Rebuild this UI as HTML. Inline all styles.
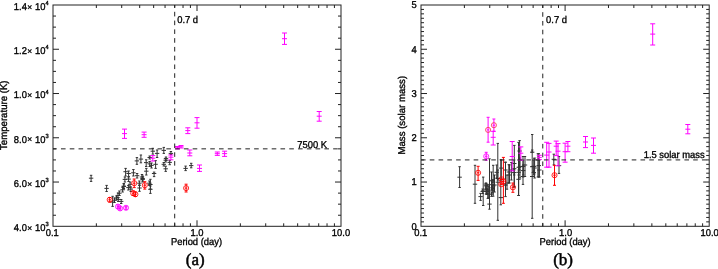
<!DOCTYPE html>
<html><head><meta charset="utf-8"><style>
html,body{margin:0;padding:0;background:#fff;}
svg{display:block;will-change:transform;}
text{font-family:"Liberation Sans",sans-serif;fill:#000;text-rendering:geometricPrecision;stroke:#000;stroke-width:0.35px;}
</style></head><body>
<svg width="718" height="269" viewBox="0 0 718 269">
<rect x="53.00" y="5.00" width="288.00" height="221.30" fill="none" stroke="#222" stroke-width="1"/>
<line x1="96.35" y1="226.30" x2="96.35" y2="223.30" stroke="#222" stroke-width="1.0" />
<line x1="96.35" y1="5.00" x2="96.35" y2="8.00" stroke="#222" stroke-width="1.0" />
<line x1="121.71" y1="226.30" x2="121.71" y2="223.30" stroke="#222" stroke-width="1.0" />
<line x1="121.71" y1="5.00" x2="121.71" y2="8.00" stroke="#222" stroke-width="1.0" />
<line x1="139.70" y1="226.30" x2="139.70" y2="223.30" stroke="#222" stroke-width="1.0" />
<line x1="139.70" y1="5.00" x2="139.70" y2="8.00" stroke="#222" stroke-width="1.0" />
<line x1="153.65" y1="226.30" x2="153.65" y2="223.30" stroke="#222" stroke-width="1.0" />
<line x1="153.65" y1="5.00" x2="153.65" y2="8.00" stroke="#222" stroke-width="1.0" />
<line x1="165.05" y1="226.30" x2="165.05" y2="223.30" stroke="#222" stroke-width="1.0" />
<line x1="165.05" y1="5.00" x2="165.05" y2="8.00" stroke="#222" stroke-width="1.0" />
<line x1="174.69" y1="226.30" x2="174.69" y2="223.30" stroke="#222" stroke-width="1.0" />
<line x1="174.69" y1="5.00" x2="174.69" y2="8.00" stroke="#222" stroke-width="1.0" />
<line x1="183.04" y1="226.30" x2="183.04" y2="223.30" stroke="#222" stroke-width="1.0" />
<line x1="183.04" y1="5.00" x2="183.04" y2="8.00" stroke="#222" stroke-width="1.0" />
<line x1="190.41" y1="226.30" x2="190.41" y2="223.30" stroke="#222" stroke-width="1.0" />
<line x1="190.41" y1="5.00" x2="190.41" y2="8.00" stroke="#222" stroke-width="1.0" />
<line x1="197.00" y1="226.30" x2="197.00" y2="220.30" stroke="#222" stroke-width="1.0" />
<line x1="197.00" y1="5.00" x2="197.00" y2="11.00" stroke="#222" stroke-width="1.0" />
<line x1="240.35" y1="226.30" x2="240.35" y2="223.30" stroke="#222" stroke-width="1.0" />
<line x1="240.35" y1="5.00" x2="240.35" y2="8.00" stroke="#222" stroke-width="1.0" />
<line x1="265.71" y1="226.30" x2="265.71" y2="223.30" stroke="#222" stroke-width="1.0" />
<line x1="265.71" y1="5.00" x2="265.71" y2="8.00" stroke="#222" stroke-width="1.0" />
<line x1="283.70" y1="226.30" x2="283.70" y2="223.30" stroke="#222" stroke-width="1.0" />
<line x1="283.70" y1="5.00" x2="283.70" y2="8.00" stroke="#222" stroke-width="1.0" />
<line x1="297.65" y1="226.30" x2="297.65" y2="223.30" stroke="#222" stroke-width="1.0" />
<line x1="297.65" y1="5.00" x2="297.65" y2="8.00" stroke="#222" stroke-width="1.0" />
<line x1="309.05" y1="226.30" x2="309.05" y2="223.30" stroke="#222" stroke-width="1.0" />
<line x1="309.05" y1="5.00" x2="309.05" y2="8.00" stroke="#222" stroke-width="1.0" />
<line x1="318.69" y1="226.30" x2="318.69" y2="223.30" stroke="#222" stroke-width="1.0" />
<line x1="318.69" y1="5.00" x2="318.69" y2="8.00" stroke="#222" stroke-width="1.0" />
<line x1="327.04" y1="226.30" x2="327.04" y2="223.30" stroke="#222" stroke-width="1.0" />
<line x1="327.04" y1="5.00" x2="327.04" y2="8.00" stroke="#222" stroke-width="1.0" />
<line x1="334.41" y1="226.30" x2="334.41" y2="223.30" stroke="#222" stroke-width="1.0" />
<line x1="334.41" y1="5.00" x2="334.41" y2="8.00" stroke="#222" stroke-width="1.0" />
<line x1="53.00" y1="215.24" x2="56.00" y2="215.24" stroke="#222" stroke-width="1.0" />
<line x1="341.00" y1="215.24" x2="338.00" y2="215.24" stroke="#222" stroke-width="1.0" />
<line x1="53.00" y1="204.17" x2="56.00" y2="204.17" stroke="#222" stroke-width="1.0" />
<line x1="341.00" y1="204.17" x2="338.00" y2="204.17" stroke="#222" stroke-width="1.0" />
<line x1="53.00" y1="193.11" x2="56.00" y2="193.11" stroke="#222" stroke-width="1.0" />
<line x1="341.00" y1="193.11" x2="338.00" y2="193.11" stroke="#222" stroke-width="1.0" />
<line x1="53.00" y1="182.04" x2="59.00" y2="182.04" stroke="#222" stroke-width="1.0" />
<line x1="341.00" y1="182.04" x2="335.00" y2="182.04" stroke="#222" stroke-width="1.0" />
<line x1="53.00" y1="170.98" x2="56.00" y2="170.98" stroke="#222" stroke-width="1.0" />
<line x1="341.00" y1="170.98" x2="338.00" y2="170.98" stroke="#222" stroke-width="1.0" />
<line x1="53.00" y1="159.91" x2="56.00" y2="159.91" stroke="#222" stroke-width="1.0" />
<line x1="341.00" y1="159.91" x2="338.00" y2="159.91" stroke="#222" stroke-width="1.0" />
<line x1="53.00" y1="148.85" x2="56.00" y2="148.85" stroke="#222" stroke-width="1.0" />
<line x1="341.00" y1="148.85" x2="338.00" y2="148.85" stroke="#222" stroke-width="1.0" />
<line x1="53.00" y1="137.78" x2="59.00" y2="137.78" stroke="#222" stroke-width="1.0" />
<line x1="341.00" y1="137.78" x2="335.00" y2="137.78" stroke="#222" stroke-width="1.0" />
<line x1="53.00" y1="126.72" x2="56.00" y2="126.72" stroke="#222" stroke-width="1.0" />
<line x1="341.00" y1="126.72" x2="338.00" y2="126.72" stroke="#222" stroke-width="1.0" />
<line x1="53.00" y1="115.65" x2="56.00" y2="115.65" stroke="#222" stroke-width="1.0" />
<line x1="341.00" y1="115.65" x2="338.00" y2="115.65" stroke="#222" stroke-width="1.0" />
<line x1="53.00" y1="104.59" x2="56.00" y2="104.59" stroke="#222" stroke-width="1.0" />
<line x1="341.00" y1="104.59" x2="338.00" y2="104.59" stroke="#222" stroke-width="1.0" />
<line x1="53.00" y1="93.52" x2="59.00" y2="93.52" stroke="#222" stroke-width="1.0" />
<line x1="341.00" y1="93.52" x2="335.00" y2="93.52" stroke="#222" stroke-width="1.0" />
<line x1="53.00" y1="82.46" x2="56.00" y2="82.46" stroke="#222" stroke-width="1.0" />
<line x1="341.00" y1="82.46" x2="338.00" y2="82.46" stroke="#222" stroke-width="1.0" />
<line x1="53.00" y1="71.39" x2="56.00" y2="71.39" stroke="#222" stroke-width="1.0" />
<line x1="341.00" y1="71.39" x2="338.00" y2="71.39" stroke="#222" stroke-width="1.0" />
<line x1="53.00" y1="60.33" x2="56.00" y2="60.33" stroke="#222" stroke-width="1.0" />
<line x1="341.00" y1="60.33" x2="338.00" y2="60.33" stroke="#222" stroke-width="1.0" />
<line x1="53.00" y1="49.26" x2="59.00" y2="49.26" stroke="#222" stroke-width="1.0" />
<line x1="341.00" y1="49.26" x2="335.00" y2="49.26" stroke="#222" stroke-width="1.0" />
<line x1="53.00" y1="38.20" x2="56.00" y2="38.20" stroke="#222" stroke-width="1.0" />
<line x1="341.00" y1="38.20" x2="338.00" y2="38.20" stroke="#222" stroke-width="1.0" />
<line x1="53.00" y1="27.13" x2="56.00" y2="27.13" stroke="#222" stroke-width="1.0" />
<line x1="341.00" y1="27.13" x2="338.00" y2="27.13" stroke="#222" stroke-width="1.0" />
<line x1="53.00" y1="16.06" x2="56.00" y2="16.06" stroke="#222" stroke-width="1.0" />
<line x1="341.00" y1="16.06" x2="338.00" y2="16.06" stroke="#222" stroke-width="1.0" />
<rect x="421.00" y="5.00" width="288.20" height="221.30" fill="none" stroke="#222" stroke-width="1"/>
<line x1="464.38" y1="226.30" x2="464.38" y2="223.30" stroke="#222" stroke-width="1.0" />
<line x1="464.38" y1="5.00" x2="464.38" y2="8.00" stroke="#222" stroke-width="1.0" />
<line x1="489.75" y1="226.30" x2="489.75" y2="223.30" stroke="#222" stroke-width="1.0" />
<line x1="489.75" y1="5.00" x2="489.75" y2="8.00" stroke="#222" stroke-width="1.0" />
<line x1="507.76" y1="226.30" x2="507.76" y2="223.30" stroke="#222" stroke-width="1.0" />
<line x1="507.76" y1="5.00" x2="507.76" y2="8.00" stroke="#222" stroke-width="1.0" />
<line x1="521.72" y1="226.30" x2="521.72" y2="223.30" stroke="#222" stroke-width="1.0" />
<line x1="521.72" y1="5.00" x2="521.72" y2="8.00" stroke="#222" stroke-width="1.0" />
<line x1="533.13" y1="226.30" x2="533.13" y2="223.30" stroke="#222" stroke-width="1.0" />
<line x1="533.13" y1="5.00" x2="533.13" y2="8.00" stroke="#222" stroke-width="1.0" />
<line x1="542.78" y1="226.30" x2="542.78" y2="223.30" stroke="#222" stroke-width="1.0" />
<line x1="542.78" y1="5.00" x2="542.78" y2="8.00" stroke="#222" stroke-width="1.0" />
<line x1="551.14" y1="226.30" x2="551.14" y2="223.30" stroke="#222" stroke-width="1.0" />
<line x1="551.14" y1="5.00" x2="551.14" y2="8.00" stroke="#222" stroke-width="1.0" />
<line x1="558.51" y1="226.30" x2="558.51" y2="223.30" stroke="#222" stroke-width="1.0" />
<line x1="558.51" y1="5.00" x2="558.51" y2="8.00" stroke="#222" stroke-width="1.0" />
<line x1="565.10" y1="226.30" x2="565.10" y2="220.30" stroke="#222" stroke-width="1.0" />
<line x1="565.10" y1="5.00" x2="565.10" y2="11.00" stroke="#222" stroke-width="1.0" />
<line x1="608.48" y1="226.30" x2="608.48" y2="223.30" stroke="#222" stroke-width="1.0" />
<line x1="608.48" y1="5.00" x2="608.48" y2="8.00" stroke="#222" stroke-width="1.0" />
<line x1="633.85" y1="226.30" x2="633.85" y2="223.30" stroke="#222" stroke-width="1.0" />
<line x1="633.85" y1="5.00" x2="633.85" y2="8.00" stroke="#222" stroke-width="1.0" />
<line x1="651.86" y1="226.30" x2="651.86" y2="223.30" stroke="#222" stroke-width="1.0" />
<line x1="651.86" y1="5.00" x2="651.86" y2="8.00" stroke="#222" stroke-width="1.0" />
<line x1="665.82" y1="226.30" x2="665.82" y2="223.30" stroke="#222" stroke-width="1.0" />
<line x1="665.82" y1="5.00" x2="665.82" y2="8.00" stroke="#222" stroke-width="1.0" />
<line x1="677.23" y1="226.30" x2="677.23" y2="223.30" stroke="#222" stroke-width="1.0" />
<line x1="677.23" y1="5.00" x2="677.23" y2="8.00" stroke="#222" stroke-width="1.0" />
<line x1="686.88" y1="226.30" x2="686.88" y2="223.30" stroke="#222" stroke-width="1.0" />
<line x1="686.88" y1="5.00" x2="686.88" y2="8.00" stroke="#222" stroke-width="1.0" />
<line x1="695.24" y1="226.30" x2="695.24" y2="223.30" stroke="#222" stroke-width="1.0" />
<line x1="695.24" y1="5.00" x2="695.24" y2="8.00" stroke="#222" stroke-width="1.0" />
<line x1="702.61" y1="226.30" x2="702.61" y2="223.30" stroke="#222" stroke-width="1.0" />
<line x1="702.61" y1="5.00" x2="702.61" y2="8.00" stroke="#222" stroke-width="1.0" />
<line x1="421.00" y1="221.87" x2="424.00" y2="221.87" stroke="#222" stroke-width="1.0" />
<line x1="709.20" y1="221.87" x2="706.20" y2="221.87" stroke="#222" stroke-width="1.0" />
<line x1="421.00" y1="217.45" x2="424.00" y2="217.45" stroke="#222" stroke-width="1.0" />
<line x1="709.20" y1="217.45" x2="706.20" y2="217.45" stroke="#222" stroke-width="1.0" />
<line x1="421.00" y1="213.02" x2="424.00" y2="213.02" stroke="#222" stroke-width="1.0" />
<line x1="709.20" y1="213.02" x2="706.20" y2="213.02" stroke="#222" stroke-width="1.0" />
<line x1="421.00" y1="208.60" x2="424.00" y2="208.60" stroke="#222" stroke-width="1.0" />
<line x1="709.20" y1="208.60" x2="706.20" y2="208.60" stroke="#222" stroke-width="1.0" />
<line x1="421.00" y1="204.17" x2="424.00" y2="204.17" stroke="#222" stroke-width="1.0" />
<line x1="709.20" y1="204.17" x2="706.20" y2="204.17" stroke="#222" stroke-width="1.0" />
<line x1="421.00" y1="199.74" x2="424.00" y2="199.74" stroke="#222" stroke-width="1.0" />
<line x1="709.20" y1="199.74" x2="706.20" y2="199.74" stroke="#222" stroke-width="1.0" />
<line x1="421.00" y1="195.32" x2="424.00" y2="195.32" stroke="#222" stroke-width="1.0" />
<line x1="709.20" y1="195.32" x2="706.20" y2="195.32" stroke="#222" stroke-width="1.0" />
<line x1="421.00" y1="190.89" x2="424.00" y2="190.89" stroke="#222" stroke-width="1.0" />
<line x1="709.20" y1="190.89" x2="706.20" y2="190.89" stroke="#222" stroke-width="1.0" />
<line x1="421.00" y1="186.47" x2="424.00" y2="186.47" stroke="#222" stroke-width="1.0" />
<line x1="709.20" y1="186.47" x2="706.20" y2="186.47" stroke="#222" stroke-width="1.0" />
<line x1="421.00" y1="182.04" x2="427.00" y2="182.04" stroke="#222" stroke-width="1.0" />
<line x1="709.20" y1="182.04" x2="703.20" y2="182.04" stroke="#222" stroke-width="1.0" />
<line x1="421.00" y1="177.61" x2="424.00" y2="177.61" stroke="#222" stroke-width="1.0" />
<line x1="709.20" y1="177.61" x2="706.20" y2="177.61" stroke="#222" stroke-width="1.0" />
<line x1="421.00" y1="173.19" x2="424.00" y2="173.19" stroke="#222" stroke-width="1.0" />
<line x1="709.20" y1="173.19" x2="706.20" y2="173.19" stroke="#222" stroke-width="1.0" />
<line x1="421.00" y1="168.76" x2="424.00" y2="168.76" stroke="#222" stroke-width="1.0" />
<line x1="709.20" y1="168.76" x2="706.20" y2="168.76" stroke="#222" stroke-width="1.0" />
<line x1="421.00" y1="164.34" x2="424.00" y2="164.34" stroke="#222" stroke-width="1.0" />
<line x1="709.20" y1="164.34" x2="706.20" y2="164.34" stroke="#222" stroke-width="1.0" />
<line x1="421.00" y1="159.91" x2="424.00" y2="159.91" stroke="#222" stroke-width="1.0" />
<line x1="709.20" y1="159.91" x2="706.20" y2="159.91" stroke="#222" stroke-width="1.0" />
<line x1="421.00" y1="155.48" x2="424.00" y2="155.48" stroke="#222" stroke-width="1.0" />
<line x1="709.20" y1="155.48" x2="706.20" y2="155.48" stroke="#222" stroke-width="1.0" />
<line x1="421.00" y1="151.06" x2="424.00" y2="151.06" stroke="#222" stroke-width="1.0" />
<line x1="709.20" y1="151.06" x2="706.20" y2="151.06" stroke="#222" stroke-width="1.0" />
<line x1="421.00" y1="146.63" x2="424.00" y2="146.63" stroke="#222" stroke-width="1.0" />
<line x1="709.20" y1="146.63" x2="706.20" y2="146.63" stroke="#222" stroke-width="1.0" />
<line x1="421.00" y1="142.21" x2="424.00" y2="142.21" stroke="#222" stroke-width="1.0" />
<line x1="709.20" y1="142.21" x2="706.20" y2="142.21" stroke="#222" stroke-width="1.0" />
<line x1="421.00" y1="137.78" x2="427.00" y2="137.78" stroke="#222" stroke-width="1.0" />
<line x1="709.20" y1="137.78" x2="703.20" y2="137.78" stroke="#222" stroke-width="1.0" />
<line x1="421.00" y1="133.35" x2="424.00" y2="133.35" stroke="#222" stroke-width="1.0" />
<line x1="709.20" y1="133.35" x2="706.20" y2="133.35" stroke="#222" stroke-width="1.0" />
<line x1="421.00" y1="128.93" x2="424.00" y2="128.93" stroke="#222" stroke-width="1.0" />
<line x1="709.20" y1="128.93" x2="706.20" y2="128.93" stroke="#222" stroke-width="1.0" />
<line x1="421.00" y1="124.50" x2="424.00" y2="124.50" stroke="#222" stroke-width="1.0" />
<line x1="709.20" y1="124.50" x2="706.20" y2="124.50" stroke="#222" stroke-width="1.0" />
<line x1="421.00" y1="120.08" x2="424.00" y2="120.08" stroke="#222" stroke-width="1.0" />
<line x1="709.20" y1="120.08" x2="706.20" y2="120.08" stroke="#222" stroke-width="1.0" />
<line x1="421.00" y1="115.65" x2="424.00" y2="115.65" stroke="#222" stroke-width="1.0" />
<line x1="709.20" y1="115.65" x2="706.20" y2="115.65" stroke="#222" stroke-width="1.0" />
<line x1="421.00" y1="111.22" x2="424.00" y2="111.22" stroke="#222" stroke-width="1.0" />
<line x1="709.20" y1="111.22" x2="706.20" y2="111.22" stroke="#222" stroke-width="1.0" />
<line x1="421.00" y1="106.80" x2="424.00" y2="106.80" stroke="#222" stroke-width="1.0" />
<line x1="709.20" y1="106.80" x2="706.20" y2="106.80" stroke="#222" stroke-width="1.0" />
<line x1="421.00" y1="102.37" x2="424.00" y2="102.37" stroke="#222" stroke-width="1.0" />
<line x1="709.20" y1="102.37" x2="706.20" y2="102.37" stroke="#222" stroke-width="1.0" />
<line x1="421.00" y1="97.95" x2="424.00" y2="97.95" stroke="#222" stroke-width="1.0" />
<line x1="709.20" y1="97.95" x2="706.20" y2="97.95" stroke="#222" stroke-width="1.0" />
<line x1="421.00" y1="93.52" x2="427.00" y2="93.52" stroke="#222" stroke-width="1.0" />
<line x1="709.20" y1="93.52" x2="703.20" y2="93.52" stroke="#222" stroke-width="1.0" />
<line x1="421.00" y1="89.09" x2="424.00" y2="89.09" stroke="#222" stroke-width="1.0" />
<line x1="709.20" y1="89.09" x2="706.20" y2="89.09" stroke="#222" stroke-width="1.0" />
<line x1="421.00" y1="84.67" x2="424.00" y2="84.67" stroke="#222" stroke-width="1.0" />
<line x1="709.20" y1="84.67" x2="706.20" y2="84.67" stroke="#222" stroke-width="1.0" />
<line x1="421.00" y1="80.24" x2="424.00" y2="80.24" stroke="#222" stroke-width="1.0" />
<line x1="709.20" y1="80.24" x2="706.20" y2="80.24" stroke="#222" stroke-width="1.0" />
<line x1="421.00" y1="75.82" x2="424.00" y2="75.82" stroke="#222" stroke-width="1.0" />
<line x1="709.20" y1="75.82" x2="706.20" y2="75.82" stroke="#222" stroke-width="1.0" />
<line x1="421.00" y1="71.39" x2="424.00" y2="71.39" stroke="#222" stroke-width="1.0" />
<line x1="709.20" y1="71.39" x2="706.20" y2="71.39" stroke="#222" stroke-width="1.0" />
<line x1="421.00" y1="66.96" x2="424.00" y2="66.96" stroke="#222" stroke-width="1.0" />
<line x1="709.20" y1="66.96" x2="706.20" y2="66.96" stroke="#222" stroke-width="1.0" />
<line x1="421.00" y1="62.54" x2="424.00" y2="62.54" stroke="#222" stroke-width="1.0" />
<line x1="709.20" y1="62.54" x2="706.20" y2="62.54" stroke="#222" stroke-width="1.0" />
<line x1="421.00" y1="58.11" x2="424.00" y2="58.11" stroke="#222" stroke-width="1.0" />
<line x1="709.20" y1="58.11" x2="706.20" y2="58.11" stroke="#222" stroke-width="1.0" />
<line x1="421.00" y1="53.69" x2="424.00" y2="53.69" stroke="#222" stroke-width="1.0" />
<line x1="709.20" y1="53.69" x2="706.20" y2="53.69" stroke="#222" stroke-width="1.0" />
<line x1="421.00" y1="49.26" x2="427.00" y2="49.26" stroke="#222" stroke-width="1.0" />
<line x1="709.20" y1="49.26" x2="703.20" y2="49.26" stroke="#222" stroke-width="1.0" />
<line x1="421.00" y1="44.83" x2="424.00" y2="44.83" stroke="#222" stroke-width="1.0" />
<line x1="709.20" y1="44.83" x2="706.20" y2="44.83" stroke="#222" stroke-width="1.0" />
<line x1="421.00" y1="40.41" x2="424.00" y2="40.41" stroke="#222" stroke-width="1.0" />
<line x1="709.20" y1="40.41" x2="706.20" y2="40.41" stroke="#222" stroke-width="1.0" />
<line x1="421.00" y1="35.98" x2="424.00" y2="35.98" stroke="#222" stroke-width="1.0" />
<line x1="709.20" y1="35.98" x2="706.20" y2="35.98" stroke="#222" stroke-width="1.0" />
<line x1="421.00" y1="31.56" x2="424.00" y2="31.56" stroke="#222" stroke-width="1.0" />
<line x1="709.20" y1="31.56" x2="706.20" y2="31.56" stroke="#222" stroke-width="1.0" />
<line x1="421.00" y1="27.13" x2="424.00" y2="27.13" stroke="#222" stroke-width="1.0" />
<line x1="709.20" y1="27.13" x2="706.20" y2="27.13" stroke="#222" stroke-width="1.0" />
<line x1="421.00" y1="22.70" x2="424.00" y2="22.70" stroke="#222" stroke-width="1.0" />
<line x1="709.20" y1="22.70" x2="706.20" y2="22.70" stroke="#222" stroke-width="1.0" />
<line x1="421.00" y1="18.28" x2="424.00" y2="18.28" stroke="#222" stroke-width="1.0" />
<line x1="709.20" y1="18.28" x2="706.20" y2="18.28" stroke="#222" stroke-width="1.0" />
<line x1="421.00" y1="13.85" x2="424.00" y2="13.85" stroke="#222" stroke-width="1.0" />
<line x1="709.20" y1="13.85" x2="706.20" y2="13.85" stroke="#222" stroke-width="1.0" />
<line x1="421.00" y1="9.43" x2="424.00" y2="9.43" stroke="#222" stroke-width="1.0" />
<line x1="709.20" y1="9.43" x2="706.20" y2="9.43" stroke="#222" stroke-width="1.0" />
<line x1="91.10" y1="175.30" x2="91.10" y2="181.40" stroke="#333" stroke-width="1.0" />
<line x1="89.90" y1="175.30" x2="92.30" y2="175.30" stroke="#333" stroke-width="1.0" />
<line x1="89.90" y1="181.40" x2="92.30" y2="181.40" stroke="#333" stroke-width="1.0" />
<line x1="88.90" y1="178.20" x2="93.30" y2="178.20" stroke="#333" stroke-width="1.0" />
<line x1="106.60" y1="185.40" x2="106.60" y2="191.50" stroke="#333" stroke-width="1.0" />
<line x1="105.40" y1="185.40" x2="107.80" y2="185.40" stroke="#333" stroke-width="1.0" />
<line x1="105.40" y1="191.50" x2="107.80" y2="191.50" stroke="#333" stroke-width="1.0" />
<line x1="104.40" y1="188.40" x2="108.80" y2="188.40" stroke="#333" stroke-width="1.0" />
<line x1="136.90" y1="157.60" x2="136.90" y2="164.30" stroke="#333" stroke-width="1.0" />
<line x1="135.70" y1="157.60" x2="138.10" y2="157.60" stroke="#333" stroke-width="1.0" />
<line x1="135.70" y1="164.30" x2="138.10" y2="164.30" stroke="#333" stroke-width="1.0" />
<line x1="134.70" y1="160.90" x2="139.10" y2="160.90" stroke="#333" stroke-width="1.0" />
<line x1="140.90" y1="155.00" x2="140.90" y2="162.80" stroke="#333" stroke-width="1.0" />
<line x1="139.70" y1="155.00" x2="142.10" y2="155.00" stroke="#333" stroke-width="1.0" />
<line x1="139.70" y1="162.80" x2="142.10" y2="162.80" stroke="#333" stroke-width="1.0" />
<line x1="138.70" y1="159.10" x2="143.10" y2="159.10" stroke="#333" stroke-width="1.0" />
<line x1="146.20" y1="159.80" x2="146.20" y2="166.50" stroke="#333" stroke-width="1.0" />
<line x1="145.00" y1="159.80" x2="147.40" y2="159.80" stroke="#333" stroke-width="1.0" />
<line x1="145.00" y1="166.50" x2="147.40" y2="166.50" stroke="#333" stroke-width="1.0" />
<line x1="144.00" y1="162.60" x2="148.40" y2="162.60" stroke="#333" stroke-width="1.0" />
<line x1="149.70" y1="161.50" x2="149.70" y2="166.50" stroke="#333" stroke-width="1.0" />
<line x1="148.50" y1="161.50" x2="150.90" y2="161.50" stroke="#333" stroke-width="1.0" />
<line x1="148.50" y1="166.50" x2="150.90" y2="166.50" stroke="#333" stroke-width="1.0" />
<line x1="147.50" y1="163.90" x2="151.90" y2="163.90" stroke="#333" stroke-width="1.0" />
<line x1="151.50" y1="163.00" x2="151.50" y2="168.00" stroke="#333" stroke-width="1.0" />
<line x1="150.30" y1="163.00" x2="152.70" y2="163.00" stroke="#333" stroke-width="1.0" />
<line x1="150.30" y1="168.00" x2="152.70" y2="168.00" stroke="#333" stroke-width="1.0" />
<line x1="149.30" y1="165.40" x2="153.70" y2="165.40" stroke="#333" stroke-width="1.0" />
<line x1="155.60" y1="160.60" x2="155.60" y2="168.40" stroke="#333" stroke-width="1.0" />
<line x1="154.40" y1="160.60" x2="156.80" y2="160.60" stroke="#333" stroke-width="1.0" />
<line x1="154.40" y1="168.40" x2="156.80" y2="168.40" stroke="#333" stroke-width="1.0" />
<line x1="153.40" y1="164.30" x2="157.80" y2="164.30" stroke="#333" stroke-width="1.0" />
<line x1="152.80" y1="148.30" x2="152.80" y2="154.10" stroke="#333" stroke-width="1.0" />
<line x1="151.60" y1="148.30" x2="154.00" y2="148.30" stroke="#333" stroke-width="1.0" />
<line x1="151.60" y1="154.10" x2="154.00" y2="154.10" stroke="#333" stroke-width="1.0" />
<line x1="150.60" y1="151.20" x2="155.00" y2="151.20" stroke="#333" stroke-width="1.0" />
<line x1="157.10" y1="150.00" x2="157.10" y2="157.50" stroke="#333" stroke-width="1.0" />
<line x1="155.90" y1="150.00" x2="158.30" y2="150.00" stroke="#333" stroke-width="1.0" />
<line x1="155.90" y1="157.50" x2="158.30" y2="157.50" stroke="#333" stroke-width="1.0" />
<line x1="154.90" y1="153.40" x2="159.30" y2="153.40" stroke="#333" stroke-width="1.0" />
<line x1="163.80" y1="147.40" x2="163.80" y2="153.40" stroke="#333" stroke-width="1.0" />
<line x1="162.60" y1="147.40" x2="165.00" y2="147.40" stroke="#333" stroke-width="1.0" />
<line x1="162.60" y1="153.40" x2="165.00" y2="153.40" stroke="#333" stroke-width="1.0" />
<line x1="161.60" y1="150.40" x2="166.00" y2="150.40" stroke="#333" stroke-width="1.0" />
<line x1="170.90" y1="151.50" x2="170.90" y2="154.50" stroke="#333" stroke-width="1.0" />
<line x1="169.70" y1="151.50" x2="172.10" y2="151.50" stroke="#333" stroke-width="1.0" />
<line x1="169.70" y1="154.50" x2="172.10" y2="154.50" stroke="#333" stroke-width="1.0" />
<line x1="168.70" y1="153.40" x2="173.10" y2="153.40" stroke="#333" stroke-width="1.0" />
<line x1="146.30" y1="168.40" x2="146.30" y2="175.00" stroke="#333" stroke-width="1.0" />
<line x1="145.10" y1="168.40" x2="147.50" y2="168.40" stroke="#333" stroke-width="1.0" />
<line x1="145.10" y1="175.00" x2="147.50" y2="175.00" stroke="#333" stroke-width="1.0" />
<line x1="144.10" y1="171.20" x2="148.50" y2="171.20" stroke="#333" stroke-width="1.0" />
<line x1="154.10" y1="172.10" x2="154.10" y2="176.60" stroke="#333" stroke-width="1.0" />
<line x1="152.90" y1="172.10" x2="155.30" y2="172.10" stroke="#333" stroke-width="1.0" />
<line x1="152.90" y1="176.60" x2="155.30" y2="176.60" stroke="#333" stroke-width="1.0" />
<line x1="151.90" y1="173.50" x2="156.30" y2="173.50" stroke="#333" stroke-width="1.0" />
<line x1="165.70" y1="158.30" x2="165.70" y2="162.00" stroke="#333" stroke-width="1.0" />
<line x1="164.50" y1="158.30" x2="166.90" y2="158.30" stroke="#333" stroke-width="1.0" />
<line x1="164.50" y1="162.00" x2="166.90" y2="162.00" stroke="#333" stroke-width="1.0" />
<line x1="163.50" y1="160.20" x2="167.90" y2="160.20" stroke="#333" stroke-width="1.0" />
<line x1="169.70" y1="160.60" x2="169.70" y2="164.70" stroke="#333" stroke-width="1.0" />
<line x1="168.50" y1="160.60" x2="170.90" y2="160.60" stroke="#333" stroke-width="1.0" />
<line x1="168.50" y1="164.70" x2="170.90" y2="164.70" stroke="#333" stroke-width="1.0" />
<line x1="167.50" y1="162.40" x2="171.90" y2="162.40" stroke="#333" stroke-width="1.0" />
<line x1="163.80" y1="162.50" x2="163.80" y2="166.00" stroke="#333" stroke-width="1.0" />
<line x1="162.60" y1="162.50" x2="165.00" y2="162.50" stroke="#333" stroke-width="1.0" />
<line x1="162.60" y1="166.00" x2="165.00" y2="166.00" stroke="#333" stroke-width="1.0" />
<line x1="161.60" y1="164.30" x2="166.00" y2="164.30" stroke="#333" stroke-width="1.0" />
<line x1="165.70" y1="166.20" x2="165.70" y2="171.40" stroke="#333" stroke-width="1.0" />
<line x1="164.50" y1="166.20" x2="166.90" y2="166.20" stroke="#333" stroke-width="1.0" />
<line x1="164.50" y1="171.40" x2="166.90" y2="171.40" stroke="#333" stroke-width="1.0" />
<line x1="163.50" y1="168.80" x2="167.90" y2="168.80" stroke="#333" stroke-width="1.0" />
<line x1="125.60" y1="168.40" x2="125.60" y2="176.00" stroke="#333" stroke-width="1.0" />
<line x1="124.40" y1="168.40" x2="126.80" y2="168.40" stroke="#333" stroke-width="1.0" />
<line x1="124.40" y1="176.00" x2="126.80" y2="176.00" stroke="#333" stroke-width="1.0" />
<line x1="123.40" y1="171.70" x2="127.80" y2="171.70" stroke="#333" stroke-width="1.0" />
<line x1="128.60" y1="171.00" x2="128.60" y2="176.50" stroke="#333" stroke-width="1.0" />
<line x1="127.40" y1="171.00" x2="129.80" y2="171.00" stroke="#333" stroke-width="1.0" />
<line x1="127.40" y1="176.50" x2="129.80" y2="176.50" stroke="#333" stroke-width="1.0" />
<line x1="126.40" y1="173.50" x2="130.80" y2="173.50" stroke="#333" stroke-width="1.0" />
<line x1="133.40" y1="169.50" x2="133.40" y2="176.00" stroke="#333" stroke-width="1.0" />
<line x1="132.20" y1="169.50" x2="134.60" y2="169.50" stroke="#333" stroke-width="1.0" />
<line x1="132.20" y1="176.00" x2="134.60" y2="176.00" stroke="#333" stroke-width="1.0" />
<line x1="131.20" y1="172.80" x2="135.60" y2="172.80" stroke="#333" stroke-width="1.0" />
<line x1="137.10" y1="173.50" x2="137.10" y2="178.00" stroke="#333" stroke-width="1.0" />
<line x1="135.90" y1="173.50" x2="138.30" y2="173.50" stroke="#333" stroke-width="1.0" />
<line x1="135.90" y1="178.00" x2="138.30" y2="178.00" stroke="#333" stroke-width="1.0" />
<line x1="134.90" y1="175.70" x2="139.30" y2="175.70" stroke="#333" stroke-width="1.0" />
<line x1="142.00" y1="174.50" x2="142.00" y2="179.50" stroke="#333" stroke-width="1.0" />
<line x1="140.80" y1="174.50" x2="143.20" y2="174.50" stroke="#333" stroke-width="1.0" />
<line x1="140.80" y1="179.50" x2="143.20" y2="179.50" stroke="#333" stroke-width="1.0" />
<line x1="139.80" y1="177.00" x2="144.20" y2="177.00" stroke="#333" stroke-width="1.0" />
<line x1="142.60" y1="176.00" x2="142.60" y2="181.00" stroke="#333" stroke-width="1.0" />
<line x1="141.40" y1="176.00" x2="143.80" y2="176.00" stroke="#333" stroke-width="1.0" />
<line x1="141.40" y1="181.00" x2="143.80" y2="181.00" stroke="#333" stroke-width="1.0" />
<line x1="140.40" y1="178.50" x2="144.80" y2="178.50" stroke="#333" stroke-width="1.0" />
<line x1="124.90" y1="177.00" x2="124.90" y2="182.00" stroke="#333" stroke-width="1.0" />
<line x1="123.70" y1="177.00" x2="126.10" y2="177.00" stroke="#333" stroke-width="1.0" />
<line x1="123.70" y1="182.00" x2="126.10" y2="182.00" stroke="#333" stroke-width="1.0" />
<line x1="122.70" y1="179.40" x2="127.10" y2="179.40" stroke="#333" stroke-width="1.0" />
<line x1="123.80" y1="183.50" x2="123.80" y2="188.50" stroke="#333" stroke-width="1.0" />
<line x1="122.60" y1="183.50" x2="125.00" y2="183.50" stroke="#333" stroke-width="1.0" />
<line x1="122.60" y1="188.50" x2="125.00" y2="188.50" stroke="#333" stroke-width="1.0" />
<line x1="121.60" y1="186.10" x2="126.00" y2="186.10" stroke="#333" stroke-width="1.0" />
<line x1="130.10" y1="182.00" x2="130.10" y2="187.00" stroke="#333" stroke-width="1.0" />
<line x1="128.90" y1="182.00" x2="131.30" y2="182.00" stroke="#333" stroke-width="1.0" />
<line x1="128.90" y1="187.00" x2="131.30" y2="187.00" stroke="#333" stroke-width="1.0" />
<line x1="127.90" y1="184.30" x2="132.30" y2="184.30" stroke="#333" stroke-width="1.0" />
<line x1="128.60" y1="177.00" x2="128.60" y2="181.50" stroke="#333" stroke-width="1.0" />
<line x1="127.40" y1="177.00" x2="129.80" y2="177.00" stroke="#333" stroke-width="1.0" />
<line x1="127.40" y1="181.50" x2="129.80" y2="181.50" stroke="#333" stroke-width="1.0" />
<line x1="126.40" y1="179.10" x2="130.80" y2="179.10" stroke="#333" stroke-width="1.0" />
<line x1="139.40" y1="181.00" x2="139.40" y2="185.50" stroke="#333" stroke-width="1.0" />
<line x1="138.20" y1="181.00" x2="140.60" y2="181.00" stroke="#333" stroke-width="1.0" />
<line x1="138.20" y1="185.50" x2="140.60" y2="185.50" stroke="#333" stroke-width="1.0" />
<line x1="137.20" y1="183.20" x2="141.60" y2="183.20" stroke="#333" stroke-width="1.0" />
<line x1="142.70" y1="177.00" x2="142.70" y2="182.00" stroke="#333" stroke-width="1.0" />
<line x1="141.50" y1="177.00" x2="143.90" y2="177.00" stroke="#333" stroke-width="1.0" />
<line x1="141.50" y1="182.00" x2="143.90" y2="182.00" stroke="#333" stroke-width="1.0" />
<line x1="140.50" y1="179.40" x2="144.90" y2="179.40" stroke="#333" stroke-width="1.0" />
<line x1="139.50" y1="185.00" x2="139.50" y2="191.30" stroke="#333" stroke-width="1.0" />
<line x1="138.30" y1="185.00" x2="140.70" y2="185.00" stroke="#333" stroke-width="1.0" />
<line x1="138.30" y1="191.30" x2="140.70" y2="191.30" stroke="#333" stroke-width="1.0" />
<line x1="137.30" y1="188.00" x2="141.70" y2="188.00" stroke="#333" stroke-width="1.0" />
<line x1="122.60" y1="187.50" x2="122.60" y2="192.00" stroke="#333" stroke-width="1.0" />
<line x1="121.40" y1="187.50" x2="123.80" y2="187.50" stroke="#333" stroke-width="1.0" />
<line x1="121.40" y1="192.00" x2="123.80" y2="192.00" stroke="#333" stroke-width="1.0" />
<line x1="120.40" y1="189.80" x2="124.80" y2="189.80" stroke="#333" stroke-width="1.0" />
<line x1="130.80" y1="187.00" x2="130.80" y2="191.50" stroke="#333" stroke-width="1.0" />
<line x1="129.60" y1="187.00" x2="132.00" y2="187.00" stroke="#333" stroke-width="1.0" />
<line x1="129.60" y1="191.50" x2="132.00" y2="191.50" stroke="#333" stroke-width="1.0" />
<line x1="128.60" y1="189.10" x2="133.00" y2="189.10" stroke="#333" stroke-width="1.0" />
<line x1="150.40" y1="179.30" x2="150.40" y2="189.00" stroke="#333" stroke-width="1.0" />
<line x1="149.20" y1="179.30" x2="151.60" y2="179.30" stroke="#333" stroke-width="1.0" />
<line x1="149.20" y1="189.00" x2="151.60" y2="189.00" stroke="#333" stroke-width="1.0" />
<line x1="148.20" y1="184.50" x2="152.60" y2="184.50" stroke="#333" stroke-width="1.0" />
<line x1="150.40" y1="186.00" x2="150.40" y2="193.40" stroke="#333" stroke-width="1.0" />
<line x1="149.20" y1="186.00" x2="151.60" y2="186.00" stroke="#333" stroke-width="1.0" />
<line x1="149.20" y1="193.40" x2="151.60" y2="193.40" stroke="#333" stroke-width="1.0" />
<line x1="148.20" y1="189.30" x2="152.60" y2="189.30" stroke="#333" stroke-width="1.0" />
<line x1="119.40" y1="191.00" x2="119.40" y2="195.50" stroke="#333" stroke-width="1.0" />
<line x1="118.20" y1="191.00" x2="120.60" y2="191.00" stroke="#333" stroke-width="1.0" />
<line x1="118.20" y1="195.50" x2="120.60" y2="195.50" stroke="#333" stroke-width="1.0" />
<line x1="117.20" y1="193.20" x2="121.60" y2="193.20" stroke="#333" stroke-width="1.0" />
<line x1="118.00" y1="193.00" x2="118.00" y2="197.50" stroke="#333" stroke-width="1.0" />
<line x1="116.80" y1="193.00" x2="119.20" y2="193.00" stroke="#333" stroke-width="1.0" />
<line x1="116.80" y1="197.50" x2="119.20" y2="197.50" stroke="#333" stroke-width="1.0" />
<line x1="115.80" y1="195.40" x2="120.20" y2="195.40" stroke="#333" stroke-width="1.0" />
<line x1="116.50" y1="196.00" x2="116.50" y2="200.00" stroke="#333" stroke-width="1.0" />
<line x1="115.30" y1="196.00" x2="117.70" y2="196.00" stroke="#333" stroke-width="1.0" />
<line x1="115.30" y1="200.00" x2="117.70" y2="200.00" stroke="#333" stroke-width="1.0" />
<line x1="114.30" y1="198.00" x2="118.70" y2="198.00" stroke="#333" stroke-width="1.0" />
<line x1="114.50" y1="198.00" x2="114.50" y2="202.50" stroke="#333" stroke-width="1.0" />
<line x1="113.30" y1="198.00" x2="115.70" y2="198.00" stroke="#333" stroke-width="1.0" />
<line x1="113.30" y1="202.50" x2="115.70" y2="202.50" stroke="#333" stroke-width="1.0" />
<line x1="112.30" y1="200.20" x2="116.70" y2="200.20" stroke="#333" stroke-width="1.0" />
<line x1="112.60" y1="196.30" x2="112.60" y2="206.40" stroke="#333" stroke-width="1.0" />
<line x1="111.40" y1="196.30" x2="113.80" y2="196.30" stroke="#333" stroke-width="1.0" />
<line x1="111.40" y1="206.40" x2="113.80" y2="206.40" stroke="#333" stroke-width="1.0" />
<line x1="110.40" y1="202.00" x2="114.80" y2="202.00" stroke="#333" stroke-width="1.0" />
<line x1="118.30" y1="197.50" x2="118.30" y2="201.50" stroke="#333" stroke-width="1.0" />
<line x1="117.10" y1="197.50" x2="119.50" y2="197.50" stroke="#333" stroke-width="1.0" />
<line x1="117.10" y1="201.50" x2="119.50" y2="201.50" stroke="#333" stroke-width="1.0" />
<line x1="116.10" y1="199.40" x2="120.50" y2="199.40" stroke="#333" stroke-width="1.0" />
<line x1="121.20" y1="199.50" x2="121.20" y2="203.50" stroke="#333" stroke-width="1.0" />
<line x1="120.00" y1="199.50" x2="122.40" y2="199.50" stroke="#333" stroke-width="1.0" />
<line x1="120.00" y1="203.50" x2="122.40" y2="203.50" stroke="#333" stroke-width="1.0" />
<line x1="119.00" y1="201.40" x2="123.40" y2="201.40" stroke="#333" stroke-width="1.0" />
<line x1="128.40" y1="185.50" x2="128.40" y2="190.00" stroke="#333" stroke-width="1.0" />
<line x1="127.20" y1="185.50" x2="129.60" y2="185.50" stroke="#333" stroke-width="1.0" />
<line x1="127.20" y1="190.00" x2="129.60" y2="190.00" stroke="#333" stroke-width="1.0" />
<line x1="126.20" y1="187.60" x2="130.60" y2="187.60" stroke="#333" stroke-width="1.0" />
<line x1="123.90" y1="184.00" x2="123.90" y2="189.00" stroke="#333" stroke-width="1.0" />
<line x1="122.70" y1="184.00" x2="125.10" y2="184.00" stroke="#333" stroke-width="1.0" />
<line x1="122.70" y1="189.00" x2="125.10" y2="189.00" stroke="#333" stroke-width="1.0" />
<line x1="121.70" y1="186.50" x2="126.10" y2="186.50" stroke="#333" stroke-width="1.0" />
<line x1="149.40" y1="181.00" x2="149.40" y2="185.50" stroke="#333" stroke-width="1.0" />
<line x1="148.20" y1="181.00" x2="150.60" y2="181.00" stroke="#333" stroke-width="1.0" />
<line x1="148.20" y1="185.50" x2="150.60" y2="185.50" stroke="#333" stroke-width="1.0" />
<line x1="147.20" y1="183.20" x2="151.60" y2="183.20" stroke="#333" stroke-width="1.0" />
<line x1="185.60" y1="166.10" x2="185.60" y2="170.60" stroke="#333" stroke-width="1.0" />
<line x1="184.40" y1="166.10" x2="186.80" y2="166.10" stroke="#333" stroke-width="1.0" />
<line x1="184.40" y1="170.60" x2="186.80" y2="170.60" stroke="#333" stroke-width="1.0" />
<line x1="183.40" y1="168.40" x2="187.80" y2="168.40" stroke="#333" stroke-width="1.0" />
<line x1="191.20" y1="163.30" x2="191.20" y2="167.80" stroke="#333" stroke-width="1.0" />
<line x1="190.00" y1="163.30" x2="192.40" y2="163.30" stroke="#333" stroke-width="1.0" />
<line x1="190.00" y1="167.80" x2="192.40" y2="167.80" stroke="#333" stroke-width="1.0" />
<line x1="189.00" y1="165.60" x2="193.40" y2="165.60" stroke="#333" stroke-width="1.0" />
<line x1="166.00" y1="157.00" x2="166.00" y2="160.50" stroke="#333" stroke-width="1.0" />
<line x1="164.80" y1="157.00" x2="167.20" y2="157.00" stroke="#333" stroke-width="1.0" />
<line x1="164.80" y1="160.50" x2="167.20" y2="160.50" stroke="#333" stroke-width="1.0" />
<line x1="163.80" y1="158.60" x2="168.20" y2="158.60" stroke="#333" stroke-width="1.0" />
<line x1="149.70" y1="156.00" x2="149.70" y2="159.00" stroke="#333" stroke-width="1.0" />
<line x1="148.50" y1="156.00" x2="150.90" y2="156.00" stroke="#333" stroke-width="1.0" />
<line x1="148.50" y1="159.00" x2="150.90" y2="159.00" stroke="#333" stroke-width="1.0" />
<line x1="147.50" y1="157.50" x2="151.90" y2="157.50" stroke="#333" stroke-width="1.0" />
<line x1="109.70" y1="197.50" x2="109.70" y2="202.00" stroke="#ff0000" stroke-width="1.0" />
<line x1="108.20" y1="197.50" x2="111.20" y2="197.50" stroke="#ff0000" stroke-width="1.0" />
<line x1="108.20" y1="202.00" x2="111.20" y2="202.00" stroke="#ff0000" stroke-width="1.0" />
<line x1="108.40" y1="199.80" x2="111.00" y2="199.80" stroke="#ff0000" stroke-width="1.0" />
<circle cx="109.70" cy="199.80" r="2.55" fill="none" stroke="#ff0000" stroke-width="0.85"/>
<line x1="133.20" y1="191.00" x2="133.20" y2="195.50" stroke="#ff0000" stroke-width="1.0" />
<line x1="131.70" y1="191.00" x2="134.70" y2="191.00" stroke="#ff0000" stroke-width="1.0" />
<line x1="131.70" y1="195.50" x2="134.70" y2="195.50" stroke="#ff0000" stroke-width="1.0" />
<line x1="131.90" y1="193.20" x2="134.50" y2="193.20" stroke="#ff0000" stroke-width="1.0" />
<circle cx="133.20" cy="193.20" r="2.55" fill="none" stroke="#ff0000" stroke-width="0.85"/>
<line x1="135.40" y1="192.00" x2="135.40" y2="196.50" stroke="#ff0000" stroke-width="1.0" />
<line x1="133.90" y1="192.00" x2="136.90" y2="192.00" stroke="#ff0000" stroke-width="1.0" />
<line x1="133.90" y1="196.50" x2="136.90" y2="196.50" stroke="#ff0000" stroke-width="1.0" />
<line x1="134.10" y1="194.30" x2="136.70" y2="194.30" stroke="#ff0000" stroke-width="1.0" />
<circle cx="135.40" cy="194.30" r="2.55" fill="none" stroke="#ff0000" stroke-width="0.85"/>
<line x1="134.20" y1="179.00" x2="134.20" y2="187.60" stroke="#ff0000" stroke-width="1.0" />
<line x1="132.70" y1="179.00" x2="135.70" y2="179.00" stroke="#ff0000" stroke-width="1.0" />
<line x1="132.70" y1="187.60" x2="135.70" y2="187.60" stroke="#ff0000" stroke-width="1.0" />
<line x1="132.90" y1="183.20" x2="135.50" y2="183.20" stroke="#ff0000" stroke-width="1.0" />
<circle cx="134.20" cy="183.20" r="2.55" fill="none" stroke="#ff0000" stroke-width="0.85"/>
<line x1="144.80" y1="181.70" x2="144.80" y2="189.10" stroke="#ff0000" stroke-width="1.0" />
<line x1="143.30" y1="181.70" x2="146.30" y2="181.70" stroke="#ff0000" stroke-width="1.0" />
<line x1="143.30" y1="189.10" x2="146.30" y2="189.10" stroke="#ff0000" stroke-width="1.0" />
<line x1="143.50" y1="185.20" x2="146.10" y2="185.20" stroke="#ff0000" stroke-width="1.0" />
<circle cx="144.80" cy="185.20" r="2.55" fill="none" stroke="#ff0000" stroke-width="0.85"/>
<line x1="186.10" y1="184.20" x2="186.10" y2="192.00" stroke="#ff0000" stroke-width="1.0" />
<line x1="184.60" y1="184.20" x2="187.60" y2="184.20" stroke="#ff0000" stroke-width="1.0" />
<line x1="184.60" y1="192.00" x2="187.60" y2="192.00" stroke="#ff0000" stroke-width="1.0" />
<line x1="184.80" y1="188.10" x2="187.40" y2="188.10" stroke="#ff0000" stroke-width="1.0" />
<circle cx="186.10" cy="188.10" r="2.55" fill="none" stroke="#ff0000" stroke-width="0.85"/>
<line x1="124.50" y1="129.10" x2="124.50" y2="138.40" stroke="#ff00ff" stroke-width="1.0" />
<line x1="122.00" y1="129.10" x2="127.00" y2="129.10" stroke="#ff00ff" stroke-width="1.0" />
<line x1="122.00" y1="138.40" x2="127.00" y2="138.40" stroke="#ff00ff" stroke-width="1.0" />
<line x1="122.00" y1="133.60" x2="127.00" y2="133.60" stroke="#ff00ff" stroke-width="1.0" />
<line x1="144.10" y1="132.10" x2="144.10" y2="137.30" stroke="#ff00ff" stroke-width="1.0" />
<line x1="141.60" y1="132.10" x2="146.60" y2="132.10" stroke="#ff00ff" stroke-width="1.0" />
<line x1="141.60" y1="137.30" x2="146.60" y2="137.30" stroke="#ff00ff" stroke-width="1.0" />
<line x1="141.60" y1="134.70" x2="146.60" y2="134.70" stroke="#ff00ff" stroke-width="1.0" />
<line x1="152.80" y1="155.60" x2="152.80" y2="161.00" stroke="#ff00ff" stroke-width="1.0" />
<line x1="150.30" y1="155.60" x2="155.30" y2="155.60" stroke="#ff00ff" stroke-width="1.0" />
<line x1="150.30" y1="161.00" x2="155.30" y2="161.00" stroke="#ff00ff" stroke-width="1.0" />
<line x1="150.30" y1="158.20" x2="155.30" y2="158.20" stroke="#ff00ff" stroke-width="1.0" />
<line x1="170.90" y1="155.00" x2="170.90" y2="159.80" stroke="#ff00ff" stroke-width="1.0" />
<line x1="168.40" y1="155.00" x2="173.40" y2="155.00" stroke="#ff00ff" stroke-width="1.0" />
<line x1="168.40" y1="159.80" x2="173.40" y2="159.80" stroke="#ff00ff" stroke-width="1.0" />
<line x1="168.40" y1="157.20" x2="173.40" y2="157.20" stroke="#ff00ff" stroke-width="1.0" />
<line x1="177.50" y1="146.50" x2="177.50" y2="149.00" stroke="#ff00ff" stroke-width="1.0" />
<line x1="175.00" y1="146.50" x2="180.00" y2="146.50" stroke="#ff00ff" stroke-width="1.0" />
<line x1="175.00" y1="149.00" x2="180.00" y2="149.00" stroke="#ff00ff" stroke-width="1.0" />
<line x1="175.00" y1="147.80" x2="180.00" y2="147.80" stroke="#ff00ff" stroke-width="1.0" />
<line x1="181.00" y1="145.50" x2="181.00" y2="148.00" stroke="#ff00ff" stroke-width="1.0" />
<line x1="178.50" y1="145.50" x2="183.50" y2="145.50" stroke="#ff00ff" stroke-width="1.0" />
<line x1="178.50" y1="148.00" x2="183.50" y2="148.00" stroke="#ff00ff" stroke-width="1.0" />
<line x1="178.50" y1="146.80" x2="183.50" y2="146.80" stroke="#ff00ff" stroke-width="1.0" />
<line x1="187.80" y1="127.80" x2="187.80" y2="133.60" stroke="#ff00ff" stroke-width="1.0" />
<line x1="185.30" y1="127.80" x2="190.30" y2="127.80" stroke="#ff00ff" stroke-width="1.0" />
<line x1="185.30" y1="133.60" x2="190.30" y2="133.60" stroke="#ff00ff" stroke-width="1.0" />
<line x1="185.30" y1="130.60" x2="190.30" y2="130.60" stroke="#ff00ff" stroke-width="1.0" />
<line x1="197.00" y1="117.60" x2="197.00" y2="128.20" stroke="#ff00ff" stroke-width="1.0" />
<line x1="194.50" y1="117.60" x2="199.50" y2="117.60" stroke="#ff00ff" stroke-width="1.0" />
<line x1="194.50" y1="128.20" x2="199.50" y2="128.20" stroke="#ff00ff" stroke-width="1.0" />
<line x1="194.50" y1="122.80" x2="199.50" y2="122.80" stroke="#ff00ff" stroke-width="1.0" />
<line x1="189.80" y1="150.00" x2="189.80" y2="155.80" stroke="#ff00ff" stroke-width="1.0" />
<line x1="187.30" y1="150.00" x2="192.30" y2="150.00" stroke="#ff00ff" stroke-width="1.0" />
<line x1="187.30" y1="155.80" x2="192.30" y2="155.80" stroke="#ff00ff" stroke-width="1.0" />
<line x1="187.30" y1="153.00" x2="192.30" y2="153.00" stroke="#ff00ff" stroke-width="1.0" />
<line x1="217.30" y1="152.00" x2="217.30" y2="155.40" stroke="#ff00ff" stroke-width="1.0" />
<line x1="214.80" y1="152.00" x2="219.80" y2="152.00" stroke="#ff00ff" stroke-width="1.0" />
<line x1="214.80" y1="155.40" x2="219.80" y2="155.40" stroke="#ff00ff" stroke-width="1.0" />
<line x1="214.80" y1="153.70" x2="219.80" y2="153.70" stroke="#ff00ff" stroke-width="1.0" />
<line x1="224.60" y1="151.20" x2="224.60" y2="156.40" stroke="#ff00ff" stroke-width="1.0" />
<line x1="222.10" y1="151.20" x2="227.10" y2="151.20" stroke="#ff00ff" stroke-width="1.0" />
<line x1="222.10" y1="156.40" x2="227.10" y2="156.40" stroke="#ff00ff" stroke-width="1.0" />
<line x1="222.10" y1="153.60" x2="227.10" y2="153.60" stroke="#ff00ff" stroke-width="1.0" />
<line x1="199.50" y1="165.00" x2="199.50" y2="171.40" stroke="#ff00ff" stroke-width="1.0" />
<line x1="197.00" y1="165.00" x2="202.00" y2="165.00" stroke="#ff00ff" stroke-width="1.0" />
<line x1="197.00" y1="171.40" x2="202.00" y2="171.40" stroke="#ff00ff" stroke-width="1.0" />
<line x1="197.00" y1="168.40" x2="202.00" y2="168.40" stroke="#ff00ff" stroke-width="1.0" />
<line x1="284.50" y1="33.00" x2="284.50" y2="44.40" stroke="#ff00ff" stroke-width="1.0" />
<line x1="282.00" y1="33.00" x2="287.00" y2="33.00" stroke="#ff00ff" stroke-width="1.0" />
<line x1="282.00" y1="44.40" x2="287.00" y2="44.40" stroke="#ff00ff" stroke-width="1.0" />
<line x1="282.00" y1="38.70" x2="287.00" y2="38.70" stroke="#ff00ff" stroke-width="1.0" />
<line x1="319.20" y1="111.50" x2="319.20" y2="121.20" stroke="#ff00ff" stroke-width="1.0" />
<line x1="316.70" y1="111.50" x2="321.70" y2="111.50" stroke="#ff00ff" stroke-width="1.0" />
<line x1="316.70" y1="121.20" x2="321.70" y2="121.20" stroke="#ff00ff" stroke-width="1.0" />
<line x1="316.70" y1="116.20" x2="321.70" y2="116.20" stroke="#ff00ff" stroke-width="1.0" />
<line x1="118.00" y1="205.00" x2="118.00" y2="208.20" stroke="#ff00ff" stroke-width="1.0" />
<line x1="116.50" y1="205.00" x2="119.50" y2="205.00" stroke="#ff00ff" stroke-width="1.0" />
<line x1="116.50" y1="208.20" x2="119.50" y2="208.20" stroke="#ff00ff" stroke-width="1.0" />
<line x1="116.70" y1="206.60" x2="119.30" y2="206.60" stroke="#ff00ff" stroke-width="1.0" />
<circle cx="118.00" cy="206.60" r="2.55" fill="none" stroke="#ff00ff" stroke-width="0.85"/>
<line x1="120.10" y1="207.00" x2="120.10" y2="210.00" stroke="#ff00ff" stroke-width="1.0" />
<line x1="118.60" y1="207.00" x2="121.60" y2="207.00" stroke="#ff00ff" stroke-width="1.0" />
<line x1="118.60" y1="210.00" x2="121.60" y2="210.00" stroke="#ff00ff" stroke-width="1.0" />
<line x1="118.80" y1="208.40" x2="121.40" y2="208.40" stroke="#ff00ff" stroke-width="1.0" />
<circle cx="120.10" cy="208.40" r="2.55" fill="none" stroke="#ff00ff" stroke-width="0.85"/>
<line x1="126.00" y1="206.30" x2="126.00" y2="209.30" stroke="#ff00ff" stroke-width="1.0" />
<line x1="124.50" y1="206.30" x2="127.50" y2="206.30" stroke="#ff00ff" stroke-width="1.0" />
<line x1="124.50" y1="209.30" x2="127.50" y2="209.30" stroke="#ff00ff" stroke-width="1.0" />
<line x1="124.70" y1="207.80" x2="127.30" y2="207.80" stroke="#ff00ff" stroke-width="1.0" />
<circle cx="126.00" cy="207.80" r="2.55" fill="none" stroke="#ff00ff" stroke-width="0.85"/>
<line x1="459.60" y1="166.70" x2="459.60" y2="187.50" stroke="#333" stroke-width="1.0" />
<line x1="458.40" y1="166.70" x2="460.80" y2="166.70" stroke="#333" stroke-width="1.0" />
<line x1="458.40" y1="187.50" x2="460.80" y2="187.50" stroke="#333" stroke-width="1.0" />
<line x1="457.40" y1="177.20" x2="461.80" y2="177.20" stroke="#333" stroke-width="1.0" />
<line x1="482.70" y1="189.00" x2="482.70" y2="193.50" stroke="#333" stroke-width="1.0" />
<line x1="481.50" y1="189.00" x2="483.90" y2="189.00" stroke="#333" stroke-width="1.0" />
<line x1="481.50" y1="193.50" x2="483.90" y2="193.50" stroke="#333" stroke-width="1.0" />
<line x1="480.50" y1="191.40" x2="484.90" y2="191.40" stroke="#333" stroke-width="1.0" />
<line x1="486.00" y1="183.30" x2="486.00" y2="188.00" stroke="#333" stroke-width="1.0" />
<line x1="484.80" y1="183.30" x2="487.20" y2="183.30" stroke="#333" stroke-width="1.0" />
<line x1="484.80" y1="188.00" x2="487.20" y2="188.00" stroke="#333" stroke-width="1.0" />
<line x1="483.80" y1="185.80" x2="488.20" y2="185.80" stroke="#333" stroke-width="1.0" />
<line x1="486.60" y1="189.00" x2="486.60" y2="194.50" stroke="#333" stroke-width="1.0" />
<line x1="485.40" y1="189.00" x2="487.80" y2="189.00" stroke="#333" stroke-width="1.0" />
<line x1="485.40" y1="194.50" x2="487.80" y2="194.50" stroke="#333" stroke-width="1.0" />
<line x1="484.40" y1="191.40" x2="488.80" y2="191.40" stroke="#333" stroke-width="1.0" />
<line x1="487.80" y1="184.70" x2="487.80" y2="198.40" stroke="#333" stroke-width="1.0" />
<line x1="486.60" y1="184.70" x2="489.00" y2="184.70" stroke="#333" stroke-width="1.0" />
<line x1="486.60" y1="198.40" x2="489.00" y2="198.40" stroke="#333" stroke-width="1.0" />
<line x1="485.60" y1="190.00" x2="490.00" y2="190.00" stroke="#333" stroke-width="1.0" />
<line x1="492.80" y1="179.70" x2="492.80" y2="182.00" stroke="#333" stroke-width="1.0" />
<line x1="491.60" y1="179.70" x2="494.00" y2="179.70" stroke="#333" stroke-width="1.0" />
<line x1="491.60" y1="182.00" x2="494.00" y2="182.00" stroke="#333" stroke-width="1.0" />
<line x1="490.60" y1="180.20" x2="495.00" y2="180.20" stroke="#333" stroke-width="1.0" />
<line x1="492.20" y1="182.50" x2="492.20" y2="187.00" stroke="#333" stroke-width="1.0" />
<line x1="491.00" y1="182.50" x2="493.40" y2="182.50" stroke="#333" stroke-width="1.0" />
<line x1="491.00" y1="187.00" x2="493.40" y2="187.00" stroke="#333" stroke-width="1.0" />
<line x1="490.00" y1="184.70" x2="494.40" y2="184.70" stroke="#333" stroke-width="1.0" />
<line x1="492.50" y1="185.50" x2="492.50" y2="190.00" stroke="#333" stroke-width="1.0" />
<line x1="491.30" y1="185.50" x2="493.70" y2="185.50" stroke="#333" stroke-width="1.0" />
<line x1="491.30" y1="190.00" x2="493.70" y2="190.00" stroke="#333" stroke-width="1.0" />
<line x1="490.30" y1="187.80" x2="494.70" y2="187.80" stroke="#333" stroke-width="1.0" />
<line x1="492.80" y1="188.50" x2="492.80" y2="193.00" stroke="#333" stroke-width="1.0" />
<line x1="491.60" y1="188.50" x2="494.00" y2="188.50" stroke="#333" stroke-width="1.0" />
<line x1="491.60" y1="193.00" x2="494.00" y2="193.00" stroke="#333" stroke-width="1.0" />
<line x1="490.60" y1="190.80" x2="495.00" y2="190.80" stroke="#333" stroke-width="1.0" />
<line x1="494.50" y1="175.00" x2="494.50" y2="192.00" stroke="#333" stroke-width="1.0" />
<line x1="493.30" y1="175.00" x2="495.70" y2="175.00" stroke="#333" stroke-width="1.0" />
<line x1="493.30" y1="192.00" x2="495.70" y2="192.00" stroke="#333" stroke-width="1.0" />
<line x1="492.30" y1="185.00" x2="496.70" y2="185.00" stroke="#333" stroke-width="1.0" />
<line x1="487.00" y1="189.00" x2="487.00" y2="193.50" stroke="#333" stroke-width="1.0" />
<line x1="485.80" y1="189.00" x2="488.20" y2="189.00" stroke="#333" stroke-width="1.0" />
<line x1="485.80" y1="193.50" x2="488.20" y2="193.50" stroke="#333" stroke-width="1.0" />
<line x1="484.80" y1="191.40" x2="489.20" y2="191.40" stroke="#333" stroke-width="1.0" />
<line x1="491.50" y1="192.00" x2="491.50" y2="196.40" stroke="#333" stroke-width="1.0" />
<line x1="490.30" y1="192.00" x2="492.70" y2="192.00" stroke="#333" stroke-width="1.0" />
<line x1="490.30" y1="196.40" x2="492.70" y2="196.40" stroke="#333" stroke-width="1.0" />
<line x1="489.30" y1="194.20" x2="493.70" y2="194.20" stroke="#333" stroke-width="1.0" />
<line x1="501.30" y1="160.00" x2="501.30" y2="180.00" stroke="#333" stroke-width="1.0" />
<line x1="500.10" y1="160.00" x2="502.50" y2="160.00" stroke="#333" stroke-width="1.0" />
<line x1="500.10" y1="180.00" x2="502.50" y2="180.00" stroke="#333" stroke-width="1.0" />
<line x1="499.10" y1="168.10" x2="503.50" y2="168.10" stroke="#333" stroke-width="1.0" />
<line x1="505.50" y1="162.50" x2="505.50" y2="185.00" stroke="#333" stroke-width="1.0" />
<line x1="504.30" y1="162.50" x2="506.70" y2="162.50" stroke="#333" stroke-width="1.0" />
<line x1="504.30" y1="185.00" x2="506.70" y2="185.00" stroke="#333" stroke-width="1.0" />
<line x1="503.30" y1="170.00" x2="507.70" y2="170.00" stroke="#333" stroke-width="1.0" />
<line x1="508.80" y1="164.70" x2="508.80" y2="183.00" stroke="#333" stroke-width="1.0" />
<line x1="507.60" y1="164.70" x2="510.00" y2="164.70" stroke="#333" stroke-width="1.0" />
<line x1="507.60" y1="183.00" x2="510.00" y2="183.00" stroke="#333" stroke-width="1.0" />
<line x1="506.60" y1="172.00" x2="511.00" y2="172.00" stroke="#333" stroke-width="1.0" />
<line x1="511.40" y1="162.50" x2="511.40" y2="180.00" stroke="#333" stroke-width="1.0" />
<line x1="510.20" y1="162.50" x2="512.60" y2="162.50" stroke="#333" stroke-width="1.0" />
<line x1="510.20" y1="180.00" x2="512.60" y2="180.00" stroke="#333" stroke-width="1.0" />
<line x1="509.20" y1="170.00" x2="513.60" y2="170.00" stroke="#333" stroke-width="1.0" />
<line x1="514.20" y1="160.00" x2="514.20" y2="187.00" stroke="#333" stroke-width="1.0" />
<line x1="513.00" y1="160.00" x2="515.40" y2="160.00" stroke="#333" stroke-width="1.0" />
<line x1="513.00" y1="187.00" x2="515.40" y2="187.00" stroke="#333" stroke-width="1.0" />
<line x1="512.00" y1="168.70" x2="516.40" y2="168.70" stroke="#333" stroke-width="1.0" />
<line x1="514.20" y1="170.00" x2="514.20" y2="175.00" stroke="#333" stroke-width="1.0" />
<line x1="513.00" y1="170.00" x2="515.40" y2="170.00" stroke="#333" stroke-width="1.0" />
<line x1="513.00" y1="175.00" x2="515.40" y2="175.00" stroke="#333" stroke-width="1.0" />
<line x1="512.00" y1="172.60" x2="516.40" y2="172.60" stroke="#333" stroke-width="1.0" />
<line x1="518.70" y1="160.00" x2="518.70" y2="195.50" stroke="#333" stroke-width="1.0" />
<line x1="517.50" y1="160.00" x2="519.90" y2="160.00" stroke="#333" stroke-width="1.0" />
<line x1="517.50" y1="195.50" x2="519.90" y2="195.50" stroke="#333" stroke-width="1.0" />
<line x1="516.50" y1="167.30" x2="520.90" y2="167.30" stroke="#333" stroke-width="1.0" />
<line x1="518.70" y1="170.00" x2="518.70" y2="175.00" stroke="#333" stroke-width="1.0" />
<line x1="517.50" y1="170.00" x2="519.90" y2="170.00" stroke="#333" stroke-width="1.0" />
<line x1="517.50" y1="175.00" x2="519.90" y2="175.00" stroke="#333" stroke-width="1.0" />
<line x1="516.50" y1="172.30" x2="520.90" y2="172.30" stroke="#333" stroke-width="1.0" />
<line x1="520.00" y1="158.00" x2="520.00" y2="178.00" stroke="#333" stroke-width="1.0" />
<line x1="518.80" y1="158.00" x2="521.20" y2="158.00" stroke="#333" stroke-width="1.0" />
<line x1="518.80" y1="178.00" x2="521.20" y2="178.00" stroke="#333" stroke-width="1.0" />
<line x1="517.80" y1="166.70" x2="522.20" y2="166.70" stroke="#333" stroke-width="1.0" />
<line x1="523.20" y1="160.00" x2="523.20" y2="175.00" stroke="#333" stroke-width="1.0" />
<line x1="522.00" y1="160.00" x2="524.40" y2="160.00" stroke="#333" stroke-width="1.0" />
<line x1="522.00" y1="175.00" x2="524.40" y2="175.00" stroke="#333" stroke-width="1.0" />
<line x1="521.00" y1="166.40" x2="525.40" y2="166.40" stroke="#333" stroke-width="1.0" />
<line x1="523.20" y1="165.00" x2="523.20" y2="177.00" stroke="#333" stroke-width="1.0" />
<line x1="522.00" y1="165.00" x2="524.40" y2="165.00" stroke="#333" stroke-width="1.0" />
<line x1="522.00" y1="177.00" x2="524.40" y2="177.00" stroke="#333" stroke-width="1.0" />
<line x1="521.00" y1="170.60" x2="525.40" y2="170.60" stroke="#333" stroke-width="1.0" />
<line x1="533.20" y1="160.00" x2="533.20" y2="172.00" stroke="#333" stroke-width="1.0" />
<line x1="532.00" y1="160.00" x2="534.40" y2="160.00" stroke="#333" stroke-width="1.0" />
<line x1="532.00" y1="172.00" x2="534.40" y2="172.00" stroke="#333" stroke-width="1.0" />
<line x1="531.00" y1="166.40" x2="535.40" y2="166.40" stroke="#333" stroke-width="1.0" />
<line x1="533.80" y1="170.00" x2="533.80" y2="175.00" stroke="#333" stroke-width="1.0" />
<line x1="532.60" y1="170.00" x2="535.00" y2="170.00" stroke="#333" stroke-width="1.0" />
<line x1="532.60" y1="175.00" x2="535.00" y2="175.00" stroke="#333" stroke-width="1.0" />
<line x1="531.60" y1="172.60" x2="536.00" y2="172.60" stroke="#333" stroke-width="1.0" />
<line x1="538.80" y1="153.70" x2="538.80" y2="177.00" stroke="#333" stroke-width="1.0" />
<line x1="537.60" y1="153.70" x2="540.00" y2="153.70" stroke="#333" stroke-width="1.0" />
<line x1="537.60" y1="177.00" x2="540.00" y2="177.00" stroke="#333" stroke-width="1.0" />
<line x1="536.60" y1="165.60" x2="541.00" y2="165.60" stroke="#333" stroke-width="1.0" />
<line x1="534.60" y1="158.00" x2="534.60" y2="178.00" stroke="#333" stroke-width="1.0" />
<line x1="533.40" y1="158.00" x2="535.80" y2="158.00" stroke="#333" stroke-width="1.0" />
<line x1="533.40" y1="178.00" x2="535.80" y2="178.00" stroke="#333" stroke-width="1.0" />
<line x1="532.40" y1="168.00" x2="536.80" y2="168.00" stroke="#333" stroke-width="1.0" />
<line x1="475.00" y1="165.30" x2="475.00" y2="203.30" stroke="#333" stroke-width="1.0" />
<line x1="473.80" y1="165.30" x2="476.20" y2="165.30" stroke="#333" stroke-width="1.0" />
<line x1="473.80" y1="203.30" x2="476.20" y2="203.30" stroke="#333" stroke-width="1.0" />
<line x1="472.80" y1="184.20" x2="477.20" y2="184.20" stroke="#333" stroke-width="1.0" />
<line x1="480.60" y1="193.40" x2="480.60" y2="200.40" stroke="#333" stroke-width="1.0" />
<line x1="479.40" y1="193.40" x2="481.80" y2="193.40" stroke="#333" stroke-width="1.0" />
<line x1="479.40" y1="200.40" x2="481.80" y2="200.40" stroke="#333" stroke-width="1.0" />
<line x1="478.40" y1="196.60" x2="482.80" y2="196.60" stroke="#333" stroke-width="1.0" />
<line x1="483.20" y1="177.10" x2="483.20" y2="205.50" stroke="#333" stroke-width="1.0" />
<line x1="482.00" y1="177.10" x2="484.40" y2="177.10" stroke="#333" stroke-width="1.0" />
<line x1="482.00" y1="205.50" x2="484.40" y2="205.50" stroke="#333" stroke-width="1.0" />
<line x1="481.00" y1="191.00" x2="485.40" y2="191.00" stroke="#333" stroke-width="1.0" />
<line x1="486.00" y1="183.00" x2="486.00" y2="194.00" stroke="#333" stroke-width="1.0" />
<line x1="484.80" y1="183.00" x2="487.20" y2="183.00" stroke="#333" stroke-width="1.0" />
<line x1="484.80" y1="194.00" x2="487.20" y2="194.00" stroke="#333" stroke-width="1.0" />
<line x1="483.80" y1="184.10" x2="488.20" y2="184.10" stroke="#333" stroke-width="1.0" />
<line x1="486.00" y1="186.00" x2="486.00" y2="189.20" stroke="#333" stroke-width="1.0" />
<line x1="484.80" y1="186.00" x2="487.20" y2="186.00" stroke="#333" stroke-width="1.0" />
<line x1="484.80" y1="189.20" x2="487.20" y2="189.20" stroke="#333" stroke-width="1.0" />
<line x1="483.80" y1="189.20" x2="488.20" y2="189.20" stroke="#333" stroke-width="1.0" />
<line x1="488.30" y1="186.00" x2="488.30" y2="198.00" stroke="#333" stroke-width="1.0" />
<line x1="487.10" y1="186.00" x2="489.50" y2="186.00" stroke="#333" stroke-width="1.0" />
<line x1="487.10" y1="198.00" x2="489.50" y2="198.00" stroke="#333" stroke-width="1.0" />
<line x1="486.10" y1="194.00" x2="490.50" y2="194.00" stroke="#333" stroke-width="1.0" />
<line x1="489.50" y1="158.80" x2="489.50" y2="209.20" stroke="#333" stroke-width="1.0" />
<line x1="488.30" y1="158.80" x2="490.70" y2="158.80" stroke="#333" stroke-width="1.0" />
<line x1="488.30" y1="209.20" x2="490.70" y2="209.20" stroke="#333" stroke-width="1.0" />
<line x1="487.30" y1="204.10" x2="491.70" y2="204.10" stroke="#333" stroke-width="1.0" />
<line x1="491.50" y1="172.00" x2="491.50" y2="190.00" stroke="#333" stroke-width="1.0" />
<line x1="490.30" y1="172.00" x2="492.70" y2="172.00" stroke="#333" stroke-width="1.0" />
<line x1="490.30" y1="190.00" x2="492.70" y2="190.00" stroke="#333" stroke-width="1.0" />
<line x1="489.30" y1="180.80" x2="493.70" y2="180.80" stroke="#333" stroke-width="1.0" />
<line x1="493.20" y1="165.30" x2="493.20" y2="196.20" stroke="#333" stroke-width="1.0" />
<line x1="492.00" y1="165.30" x2="494.40" y2="165.30" stroke="#333" stroke-width="1.0" />
<line x1="492.00" y1="196.20" x2="494.40" y2="196.20" stroke="#333" stroke-width="1.0" />
<line x1="491.00" y1="186.00" x2="495.40" y2="186.00" stroke="#333" stroke-width="1.0" />
<line x1="497.80" y1="143.40" x2="497.80" y2="220.30" stroke="#333" stroke-width="1.0" />
<line x1="496.60" y1="143.40" x2="499.00" y2="143.40" stroke="#333" stroke-width="1.0" />
<line x1="496.60" y1="220.30" x2="499.00" y2="220.30" stroke="#333" stroke-width="1.0" />
<line x1="495.60" y1="182.20" x2="500.00" y2="182.20" stroke="#333" stroke-width="1.0" />
<line x1="497.80" y1="170.00" x2="497.80" y2="180.00" stroke="#333" stroke-width="1.0" />
<line x1="496.60" y1="170.00" x2="499.00" y2="170.00" stroke="#333" stroke-width="1.0" />
<line x1="496.60" y1="180.00" x2="499.00" y2="180.00" stroke="#333" stroke-width="1.0" />
<line x1="495.60" y1="178.50" x2="500.00" y2="178.50" stroke="#333" stroke-width="1.0" />
<line x1="496.70" y1="165.00" x2="496.70" y2="178.00" stroke="#333" stroke-width="1.0" />
<line x1="495.50" y1="165.00" x2="497.90" y2="165.00" stroke="#333" stroke-width="1.0" />
<line x1="495.50" y1="178.00" x2="497.90" y2="178.00" stroke="#333" stroke-width="1.0" />
<line x1="494.50" y1="172.30" x2="498.90" y2="172.30" stroke="#333" stroke-width="1.0" />
<line x1="500.80" y1="159.80" x2="500.80" y2="204.80" stroke="#333" stroke-width="1.0" />
<line x1="499.60" y1="159.80" x2="502.00" y2="159.80" stroke="#333" stroke-width="1.0" />
<line x1="499.60" y1="204.80" x2="502.00" y2="204.80" stroke="#333" stroke-width="1.0" />
<line x1="498.60" y1="197.60" x2="503.00" y2="197.60" stroke="#333" stroke-width="1.0" />
<line x1="505.50" y1="162.00" x2="505.50" y2="196.60" stroke="#333" stroke-width="1.0" />
<line x1="504.30" y1="162.00" x2="506.70" y2="162.00" stroke="#333" stroke-width="1.0" />
<line x1="504.30" y1="196.60" x2="506.70" y2="196.60" stroke="#333" stroke-width="1.0" />
<line x1="503.30" y1="185.00" x2="507.70" y2="185.00" stroke="#333" stroke-width="1.0" />
<line x1="507.00" y1="175.00" x2="507.00" y2="189.20" stroke="#333" stroke-width="1.0" />
<line x1="505.80" y1="175.00" x2="508.20" y2="175.00" stroke="#333" stroke-width="1.0" />
<line x1="505.80" y1="189.20" x2="508.20" y2="189.20" stroke="#333" stroke-width="1.0" />
<line x1="504.80" y1="183.00" x2="509.20" y2="183.00" stroke="#333" stroke-width="1.0" />
<line x1="509.50" y1="164.90" x2="509.50" y2="183.00" stroke="#333" stroke-width="1.0" />
<line x1="508.30" y1="164.90" x2="510.70" y2="164.90" stroke="#333" stroke-width="1.0" />
<line x1="508.30" y1="183.00" x2="510.70" y2="183.00" stroke="#333" stroke-width="1.0" />
<line x1="507.30" y1="175.00" x2="511.70" y2="175.00" stroke="#333" stroke-width="1.0" />
<line x1="514.30" y1="145.40" x2="514.30" y2="187.00" stroke="#333" stroke-width="1.0" />
<line x1="513.10" y1="145.40" x2="515.50" y2="145.40" stroke="#333" stroke-width="1.0" />
<line x1="513.10" y1="187.00" x2="515.50" y2="187.00" stroke="#333" stroke-width="1.0" />
<line x1="512.10" y1="163.50" x2="516.50" y2="163.50" stroke="#333" stroke-width="1.0" />
<line x1="518.50" y1="142.40" x2="518.50" y2="195.50" stroke="#333" stroke-width="1.0" />
<line x1="517.30" y1="142.40" x2="519.70" y2="142.40" stroke="#333" stroke-width="1.0" />
<line x1="517.30" y1="195.50" x2="519.70" y2="195.50" stroke="#333" stroke-width="1.0" />
<line x1="516.30" y1="179.30" x2="520.70" y2="179.30" stroke="#333" stroke-width="1.0" />
<line x1="519.60" y1="140.60" x2="519.60" y2="170.00" stroke="#333" stroke-width="1.0" />
<line x1="518.40" y1="140.60" x2="520.80" y2="140.60" stroke="#333" stroke-width="1.0" />
<line x1="518.40" y1="170.00" x2="520.80" y2="170.00" stroke="#333" stroke-width="1.0" />
<line x1="517.40" y1="151.00" x2="521.80" y2="151.00" stroke="#333" stroke-width="1.0" />
<line x1="523.00" y1="156.50" x2="523.00" y2="184.40" stroke="#333" stroke-width="1.0" />
<line x1="521.80" y1="156.50" x2="524.20" y2="156.50" stroke="#333" stroke-width="1.0" />
<line x1="521.80" y1="184.40" x2="524.20" y2="184.40" stroke="#333" stroke-width="1.0" />
<line x1="520.80" y1="176.50" x2="525.20" y2="176.50" stroke="#333" stroke-width="1.0" />
<line x1="525.00" y1="156.50" x2="525.00" y2="176.50" stroke="#333" stroke-width="1.0" />
<line x1="523.80" y1="156.50" x2="526.20" y2="156.50" stroke="#333" stroke-width="1.0" />
<line x1="523.80" y1="176.50" x2="526.20" y2="176.50" stroke="#333" stroke-width="1.0" />
<line x1="522.80" y1="165.00" x2="527.20" y2="165.00" stroke="#333" stroke-width="1.0" />
<line x1="532.20" y1="134.50" x2="532.20" y2="218.30" stroke="#333" stroke-width="1.0" />
<line x1="531.00" y1="134.50" x2="533.40" y2="134.50" stroke="#333" stroke-width="1.0" />
<line x1="531.00" y1="218.30" x2="533.40" y2="218.30" stroke="#333" stroke-width="1.0" />
<line x1="530.00" y1="166.70" x2="534.40" y2="166.70" stroke="#333" stroke-width="1.0" />
<line x1="532.20" y1="150.00" x2="532.20" y2="152.20" stroke="#333" stroke-width="1.0" />
<line x1="531.00" y1="150.00" x2="533.40" y2="150.00" stroke="#333" stroke-width="1.0" />
<line x1="531.00" y1="152.20" x2="533.40" y2="152.20" stroke="#333" stroke-width="1.0" />
<line x1="530.00" y1="152.20" x2="534.40" y2="152.20" stroke="#333" stroke-width="1.0" />
<line x1="532.20" y1="176.50" x2="532.20" y2="176.50" stroke="#333" stroke-width="1.0" />
<line x1="531.00" y1="176.50" x2="533.40" y2="176.50" stroke="#333" stroke-width="1.0" />
<line x1="531.00" y1="176.50" x2="533.40" y2="176.50" stroke="#333" stroke-width="1.0" />
<line x1="530.00" y1="176.50" x2="534.40" y2="176.50" stroke="#333" stroke-width="1.0" />
<line x1="534.20" y1="158.80" x2="534.20" y2="174.00" stroke="#333" stroke-width="1.0" />
<line x1="533.00" y1="158.80" x2="535.40" y2="158.80" stroke="#333" stroke-width="1.0" />
<line x1="533.00" y1="174.00" x2="535.40" y2="174.00" stroke="#333" stroke-width="1.0" />
<line x1="532.00" y1="166.30" x2="536.40" y2="166.30" stroke="#333" stroke-width="1.0" />
<line x1="537.90" y1="153.70" x2="537.90" y2="177.00" stroke="#333" stroke-width="1.0" />
<line x1="536.70" y1="153.70" x2="539.10" y2="153.70" stroke="#333" stroke-width="1.0" />
<line x1="536.70" y1="177.00" x2="539.10" y2="177.00" stroke="#333" stroke-width="1.0" />
<line x1="535.70" y1="160.00" x2="540.10" y2="160.00" stroke="#333" stroke-width="1.0" />
<line x1="539.40" y1="160.00" x2="539.40" y2="177.00" stroke="#333" stroke-width="1.0" />
<line x1="538.20" y1="160.00" x2="540.60" y2="160.00" stroke="#333" stroke-width="1.0" />
<line x1="538.20" y1="177.00" x2="540.60" y2="177.00" stroke="#333" stroke-width="1.0" />
<line x1="537.20" y1="170.00" x2="541.60" y2="170.00" stroke="#333" stroke-width="1.0" />
<line x1="553.80" y1="154.20" x2="553.80" y2="164.90" stroke="#333" stroke-width="1.0" />
<line x1="552.60" y1="154.20" x2="555.00" y2="154.20" stroke="#333" stroke-width="1.0" />
<line x1="552.60" y1="164.90" x2="555.00" y2="164.90" stroke="#333" stroke-width="1.0" />
<line x1="551.60" y1="159.30" x2="556.00" y2="159.30" stroke="#333" stroke-width="1.0" />
<line x1="559.00" y1="156.50" x2="559.00" y2="173.40" stroke="#333" stroke-width="1.0" />
<line x1="557.80" y1="156.50" x2="560.20" y2="156.50" stroke="#333" stroke-width="1.0" />
<line x1="557.80" y1="173.40" x2="560.20" y2="173.40" stroke="#333" stroke-width="1.0" />
<line x1="556.80" y1="165.60" x2="561.20" y2="165.60" stroke="#333" stroke-width="1.0" />
<line x1="478.10" y1="166.30" x2="478.10" y2="180.40" stroke="#ff0000" stroke-width="1.0" />
<line x1="476.60" y1="166.30" x2="479.60" y2="166.30" stroke="#ff0000" stroke-width="1.0" />
<line x1="476.60" y1="180.40" x2="479.60" y2="180.40" stroke="#ff0000" stroke-width="1.0" />
<line x1="476.80" y1="172.80" x2="479.40" y2="172.80" stroke="#ff0000" stroke-width="1.0" />
<circle cx="478.10" cy="172.80" r="2.55" fill="none" stroke="#ff0000" stroke-width="0.85"/>
<line x1="503.40" y1="157.40" x2="503.40" y2="203.30" stroke="#ff0000" stroke-width="1.0" />
<line x1="501.90" y1="157.40" x2="504.90" y2="157.40" stroke="#ff0000" stroke-width="1.0" />
<line x1="501.90" y1="203.30" x2="504.90" y2="203.30" stroke="#ff0000" stroke-width="1.0" />
<line x1="502.10" y1="181.30" x2="504.70" y2="181.30" stroke="#ff0000" stroke-width="1.0" />
<circle cx="503.40" cy="181.30" r="2.55" fill="none" stroke="#ff0000" stroke-width="0.85"/>
<line x1="501.60" y1="179.30" x2="501.60" y2="179.30" stroke="#ff0000" stroke-width="1.0" />
<line x1="500.10" y1="179.30" x2="503.10" y2="179.30" stroke="#ff0000" stroke-width="1.0" />
<line x1="500.10" y1="179.30" x2="503.10" y2="179.30" stroke="#ff0000" stroke-width="1.0" />
<line x1="500.30" y1="179.30" x2="502.90" y2="179.30" stroke="#ff0000" stroke-width="1.0" />
<circle cx="501.60" cy="179.30" r="2.55" fill="none" stroke="#ff0000" stroke-width="0.85"/>
<line x1="501.20" y1="184.20" x2="501.20" y2="184.20" stroke="#ff0000" stroke-width="1.0" />
<line x1="499.70" y1="184.20" x2="502.70" y2="184.20" stroke="#ff0000" stroke-width="1.0" />
<line x1="499.70" y1="184.20" x2="502.70" y2="184.20" stroke="#ff0000" stroke-width="1.0" />
<line x1="499.90" y1="184.20" x2="502.50" y2="184.20" stroke="#ff0000" stroke-width="1.0" />
<circle cx="501.20" cy="184.20" r="2.55" fill="none" stroke="#ff0000" stroke-width="0.85"/>
<line x1="512.90" y1="183.00" x2="512.90" y2="192.30" stroke="#ff0000" stroke-width="1.0" />
<line x1="511.40" y1="183.00" x2="514.40" y2="183.00" stroke="#ff0000" stroke-width="1.0" />
<line x1="511.40" y1="192.30" x2="514.40" y2="192.30" stroke="#ff0000" stroke-width="1.0" />
<line x1="511.60" y1="187.30" x2="514.20" y2="187.30" stroke="#ff0000" stroke-width="1.0" />
<circle cx="512.90" cy="187.30" r="2.55" fill="none" stroke="#ff0000" stroke-width="0.85"/>
<line x1="554.50" y1="165.30" x2="554.50" y2="185.30" stroke="#ff0000" stroke-width="1.0" />
<line x1="553.00" y1="165.30" x2="556.00" y2="165.30" stroke="#ff0000" stroke-width="1.0" />
<line x1="553.00" y1="185.30" x2="556.00" y2="185.30" stroke="#ff0000" stroke-width="1.0" />
<line x1="553.20" y1="175.20" x2="555.80" y2="175.20" stroke="#ff0000" stroke-width="1.0" />
<circle cx="554.50" cy="175.20" r="2.55" fill="none" stroke="#ff0000" stroke-width="0.85"/>
<line x1="488.10" y1="117.30" x2="488.10" y2="142.20" stroke="#ff00ff" stroke-width="1.0" />
<line x1="486.60" y1="117.30" x2="489.60" y2="117.30" stroke="#ff00ff" stroke-width="1.0" />
<line x1="486.60" y1="142.20" x2="489.60" y2="142.20" stroke="#ff00ff" stroke-width="1.0" />
<line x1="486.80" y1="129.90" x2="489.40" y2="129.90" stroke="#ff00ff" stroke-width="1.0" />
<circle cx="488.10" cy="129.90" r="2.55" fill="none" stroke="#ff2a55" stroke-width="0.85"/>
<line x1="493.90" y1="119.00" x2="493.90" y2="131.30" stroke="#ff00ff" stroke-width="1.0" />
<line x1="492.40" y1="119.00" x2="495.40" y2="119.00" stroke="#ff00ff" stroke-width="1.0" />
<line x1="492.40" y1="131.30" x2="495.40" y2="131.30" stroke="#ff00ff" stroke-width="1.0" />
<line x1="492.60" y1="125.20" x2="495.20" y2="125.20" stroke="#ff00ff" stroke-width="1.0" />
<circle cx="493.90" cy="125.20" r="2.55" fill="none" stroke="#ff2a55" stroke-width="0.85"/>
<line x1="493.20" y1="131.30" x2="493.20" y2="145.00" stroke="#ff00ff" stroke-width="1.0" />
<line x1="490.70" y1="131.30" x2="495.70" y2="131.30" stroke="#ff00ff" stroke-width="1.0" />
<line x1="490.70" y1="145.00" x2="495.70" y2="145.00" stroke="#ff00ff" stroke-width="1.0" />
<line x1="490.70" y1="137.30" x2="495.70" y2="137.30" stroke="#ff00ff" stroke-width="1.0" />
<line x1="486.20" y1="152.30" x2="486.20" y2="160.20" stroke="#ff00ff" stroke-width="1.0" />
<line x1="484.70" y1="152.30" x2="487.70" y2="152.30" stroke="#ff00ff" stroke-width="1.0" />
<line x1="484.70" y1="160.20" x2="487.70" y2="160.20" stroke="#ff00ff" stroke-width="1.0" />
<line x1="484.90" y1="156.30" x2="487.50" y2="156.30" stroke="#ff00ff" stroke-width="1.0" />
<circle cx="486.20" cy="156.30" r="2.55" fill="none" stroke="#ff00ff" stroke-width="0.85"/>
<line x1="512.20" y1="141.50" x2="512.20" y2="170.90" stroke="#ff00ff" stroke-width="1.0" />
<line x1="509.70" y1="141.50" x2="514.70" y2="141.50" stroke="#ff00ff" stroke-width="1.0" />
<line x1="509.70" y1="170.90" x2="514.70" y2="170.90" stroke="#ff00ff" stroke-width="1.0" />
<line x1="509.70" y1="156.50" x2="514.70" y2="156.50" stroke="#ff00ff" stroke-width="1.0" />
<line x1="520.80" y1="146.90" x2="520.80" y2="160.20" stroke="#ff00ff" stroke-width="1.0" />
<line x1="518.30" y1="146.90" x2="523.30" y2="146.90" stroke="#ff00ff" stroke-width="1.0" />
<line x1="518.30" y1="160.20" x2="523.30" y2="160.20" stroke="#ff00ff" stroke-width="1.0" />
<line x1="518.30" y1="153.20" x2="523.30" y2="153.20" stroke="#ff00ff" stroke-width="1.0" />
<line x1="539.30" y1="155.30" x2="539.30" y2="159.50" stroke="#ff00ff" stroke-width="1.0" />
<line x1="536.80" y1="155.30" x2="541.80" y2="155.30" stroke="#ff00ff" stroke-width="1.0" />
<line x1="536.80" y1="159.50" x2="541.80" y2="159.50" stroke="#ff00ff" stroke-width="1.0" />
<line x1="536.80" y1="157.40" x2="541.80" y2="157.40" stroke="#ff00ff" stroke-width="1.0" />
<line x1="546.70" y1="142.30" x2="546.70" y2="167.20" stroke="#ff00ff" stroke-width="1.0" />
<line x1="544.20" y1="142.30" x2="549.20" y2="142.30" stroke="#ff00ff" stroke-width="1.0" />
<line x1="544.20" y1="167.20" x2="549.20" y2="167.20" stroke="#ff00ff" stroke-width="1.0" />
<line x1="544.20" y1="155.10" x2="549.20" y2="155.10" stroke="#ff00ff" stroke-width="1.0" />
<line x1="549.00" y1="143.40" x2="549.00" y2="167.20" stroke="#ff00ff" stroke-width="1.0" />
<line x1="546.50" y1="143.40" x2="551.50" y2="143.40" stroke="#ff00ff" stroke-width="1.0" />
<line x1="546.50" y1="167.20" x2="551.50" y2="167.20" stroke="#ff00ff" stroke-width="1.0" />
<line x1="546.50" y1="152.00" x2="551.50" y2="152.00" stroke="#ff00ff" stroke-width="1.0" />
<line x1="556.20" y1="141.10" x2="556.20" y2="155.60" stroke="#ff00ff" stroke-width="1.0" />
<line x1="553.70" y1="141.10" x2="558.70" y2="141.10" stroke="#ff00ff" stroke-width="1.0" />
<line x1="553.70" y1="155.60" x2="558.70" y2="155.60" stroke="#ff00ff" stroke-width="1.0" />
<line x1="553.70" y1="146.20" x2="558.70" y2="146.20" stroke="#ff00ff" stroke-width="1.0" />
<line x1="558.00" y1="143.60" x2="558.00" y2="165.80" stroke="#ff00ff" stroke-width="1.0" />
<line x1="555.50" y1="143.60" x2="560.50" y2="143.60" stroke="#ff00ff" stroke-width="1.0" />
<line x1="555.50" y1="165.80" x2="560.50" y2="165.80" stroke="#ff00ff" stroke-width="1.0" />
<line x1="555.50" y1="151.20" x2="560.50" y2="151.20" stroke="#ff00ff" stroke-width="1.0" />
<line x1="565.10" y1="143.20" x2="565.10" y2="162.20" stroke="#ff00ff" stroke-width="1.0" />
<line x1="562.60" y1="143.20" x2="567.60" y2="143.20" stroke="#ff00ff" stroke-width="1.0" />
<line x1="562.60" y1="162.20" x2="567.60" y2="162.20" stroke="#ff00ff" stroke-width="1.0" />
<line x1="562.60" y1="151.70" x2="567.60" y2="151.70" stroke="#ff00ff" stroke-width="1.0" />
<line x1="567.90" y1="141.50" x2="567.90" y2="151.70" stroke="#ff00ff" stroke-width="1.0" />
<line x1="565.40" y1="141.50" x2="570.40" y2="141.50" stroke="#ff00ff" stroke-width="1.0" />
<line x1="565.40" y1="151.70" x2="570.40" y2="151.70" stroke="#ff00ff" stroke-width="1.0" />
<line x1="565.40" y1="146.20" x2="570.40" y2="146.20" stroke="#ff00ff" stroke-width="1.0" />
<line x1="585.50" y1="136.50" x2="585.50" y2="147.60" stroke="#ff00ff" stroke-width="1.0" />
<line x1="583.00" y1="136.50" x2="588.00" y2="136.50" stroke="#ff00ff" stroke-width="1.0" />
<line x1="583.00" y1="147.60" x2="588.00" y2="147.60" stroke="#ff00ff" stroke-width="1.0" />
<line x1="583.00" y1="142.00" x2="588.00" y2="142.00" stroke="#ff00ff" stroke-width="1.0" />
<line x1="593.50" y1="138.00" x2="593.50" y2="153.20" stroke="#ff00ff" stroke-width="1.0" />
<line x1="591.00" y1="138.00" x2="596.00" y2="138.00" stroke="#ff00ff" stroke-width="1.0" />
<line x1="591.00" y1="153.20" x2="596.00" y2="153.20" stroke="#ff00ff" stroke-width="1.0" />
<line x1="591.00" y1="145.40" x2="596.00" y2="145.40" stroke="#ff00ff" stroke-width="1.0" />
<line x1="652.70" y1="23.80" x2="652.70" y2="45.00" stroke="#ff00ff" stroke-width="1.0" />
<line x1="650.20" y1="23.80" x2="655.20" y2="23.80" stroke="#ff00ff" stroke-width="1.0" />
<line x1="650.20" y1="45.00" x2="655.20" y2="45.00" stroke="#ff00ff" stroke-width="1.0" />
<line x1="650.20" y1="34.10" x2="655.20" y2="34.10" stroke="#ff00ff" stroke-width="1.0" />
<line x1="687.80" y1="124.50" x2="687.80" y2="133.80" stroke="#ff00ff" stroke-width="1.0" />
<line x1="685.30" y1="124.50" x2="690.30" y2="124.50" stroke="#ff00ff" stroke-width="1.0" />
<line x1="685.30" y1="133.80" x2="690.30" y2="133.80" stroke="#ff00ff" stroke-width="1.0" />
<line x1="685.30" y1="129.20" x2="690.30" y2="129.20" stroke="#ff00ff" stroke-width="1.0" />
<line x1="174.69" y1="5.00" x2="174.69" y2="226.30" stroke="#222" stroke-width="1" stroke-dasharray="4.6 4.18" stroke-dashoffset="1.98"/>
<line x1="53.00" y1="148.85" x2="341.00" y2="148.85" stroke="#222" stroke-width="1" stroke-dasharray="4.6 4.18" stroke-dashoffset="0.8"/>
<line x1="542.78" y1="5.00" x2="542.78" y2="226.30" stroke="#222" stroke-width="1" stroke-dasharray="4.6 4.18" stroke-dashoffset="1.6"/>
<line x1="421.00" y1="159.91" x2="709.20" y2="159.91" stroke="#222" stroke-width="1" stroke-dasharray="4.6 4.18" stroke-dashoffset="0.0"/>
<text transform="translate(177.19,22.90) scale(0.95,1)" font-size="9.9" text-anchor="start" >0.7 d</text>
<text transform="translate(546.08,22.90) scale(0.95,1)" font-size="9.9" text-anchor="start" >0.7 d</text>
<text transform="translate(327.00,148.00) scale(0.95,1)" font-size="9.9" text-anchor="end" >7500 K</text>
<text transform="translate(704.70,158.00) scale(0.95,1)" font-size="9.9" text-anchor="end" >1.5 solar mass</text>
<text transform="translate(52.30,236.20) scale(0.95,1)" font-size="9.9" text-anchor="middle" >0.1</text>
<text transform="translate(197.00,236.20) scale(0.95,1)" font-size="9.9" text-anchor="middle" >1.0</text>
<text transform="translate(341.00,236.20) scale(0.95,1)" font-size="9.9" text-anchor="middle" >10.0</text>
<text transform="translate(196.50,245.20) scale(0.95,1)" font-size="9.9" text-anchor="middle" >Period (day)</text>
<text transform="translate(420.80,236.20) scale(0.95,1)" font-size="9.9" text-anchor="middle" >0.1</text>
<text transform="translate(565.60,236.20) scale(0.95,1)" font-size="9.9" text-anchor="middle" >1.0</text>
<text transform="translate(709.70,236.20) scale(0.95,1)" font-size="9.9" text-anchor="middle" >10.0</text>
<text transform="translate(565.10,245.20) scale(0.95,1)" font-size="9.9" text-anchor="middle" >Period (day)</text>
<text transform="translate(26.90,231.20) scale(0.95,1)" font-size="9.9" text-anchor="end" >4.0</text>
<text x="29.6" y="230.90" font-size="8.4" text-anchor="middle" style="text-rendering:geometricPrecision">×</text>
<text transform="translate(45.45,231.20) scale(0.95,1)" font-size="9.9" text-anchor="end" >10</text>
<text transform="translate(45.60,226.40) scale(0.95,1)" font-size="6.0" text-anchor="start" >3</text>
<text transform="translate(26.90,186.94) scale(0.95,1)" font-size="9.9" text-anchor="end" >6.0</text>
<text x="29.6" y="186.64" font-size="8.4" text-anchor="middle" style="text-rendering:geometricPrecision">×</text>
<text transform="translate(45.45,186.94) scale(0.95,1)" font-size="9.9" text-anchor="end" >10</text>
<text transform="translate(45.60,182.14) scale(0.95,1)" font-size="6.0" text-anchor="start" >3</text>
<text transform="translate(26.90,142.68) scale(0.95,1)" font-size="9.9" text-anchor="end" >8.0</text>
<text x="29.6" y="142.38" font-size="8.4" text-anchor="middle" style="text-rendering:geometricPrecision">×</text>
<text transform="translate(45.45,142.68) scale(0.95,1)" font-size="9.9" text-anchor="end" >10</text>
<text transform="translate(45.60,137.88) scale(0.95,1)" font-size="6.0" text-anchor="start" >3</text>
<text transform="translate(26.90,98.42) scale(0.95,1)" font-size="9.9" text-anchor="end" >1.0</text>
<text x="29.6" y="98.12" font-size="8.4" text-anchor="middle" style="text-rendering:geometricPrecision">×</text>
<text transform="translate(45.45,98.42) scale(0.95,1)" font-size="9.9" text-anchor="end" >10</text>
<text transform="translate(45.60,93.62) scale(0.95,1)" font-size="6.0" text-anchor="start" >4</text>
<text transform="translate(26.90,54.16) scale(0.95,1)" font-size="9.9" text-anchor="end" >1.2</text>
<text x="29.6" y="53.86" font-size="8.4" text-anchor="middle" style="text-rendering:geometricPrecision">×</text>
<text transform="translate(45.45,54.16) scale(0.95,1)" font-size="9.9" text-anchor="end" >10</text>
<text transform="translate(45.60,49.36) scale(0.95,1)" font-size="6.0" text-anchor="start" >4</text>
<text transform="translate(26.90,9.90) scale(0.95,1)" font-size="9.9" text-anchor="end" >1.4</text>
<text x="29.6" y="9.60" font-size="8.4" text-anchor="middle" style="text-rendering:geometricPrecision">×</text>
<text transform="translate(45.45,9.90) scale(0.95,1)" font-size="9.9" text-anchor="end" >10</text>
<text transform="translate(45.60,5.10) scale(0.95,1)" font-size="6.0" text-anchor="start" >4</text>
<text transform="translate(416.60,229.70) scale(0.95,1)" font-size="9.9" text-anchor="end" >0</text>
<text transform="translate(416.60,185.44) scale(0.95,1)" font-size="9.9" text-anchor="end" >1</text>
<text transform="translate(416.60,141.18) scale(0.95,1)" font-size="9.9" text-anchor="end" >2</text>
<text transform="translate(416.60,96.92) scale(0.95,1)" font-size="9.9" text-anchor="end" >3</text>
<text transform="translate(416.60,52.66) scale(0.95,1)" font-size="9.9" text-anchor="end" >4</text>
<text transform="translate(416.60,8.40) scale(0.95,1)" font-size="9.9" text-anchor="end" >5</text>
<text transform="translate(7.00,115.20) rotate(-90) scale(0.975,1)" font-size="9.9" text-anchor="middle" >Temperature (K)</text>
<text transform="translate(404.80,115.20) rotate(-90) scale(0.975,1)" font-size="9.9" text-anchor="middle" >Mass (solar mass)</text>
<text x="195.3" y="265.2" font-size="17" text-anchor="middle" style="font-family:&quot;Liberation Serif&quot;,serif;stroke-width:0.5px">(a)</text>
<text x="563.10" y="265.2" font-size="17" text-anchor="middle" style="font-family:&quot;Liberation Serif&quot;,serif;stroke-width:0.5px">(b)</text>
</svg>
</body></html>
